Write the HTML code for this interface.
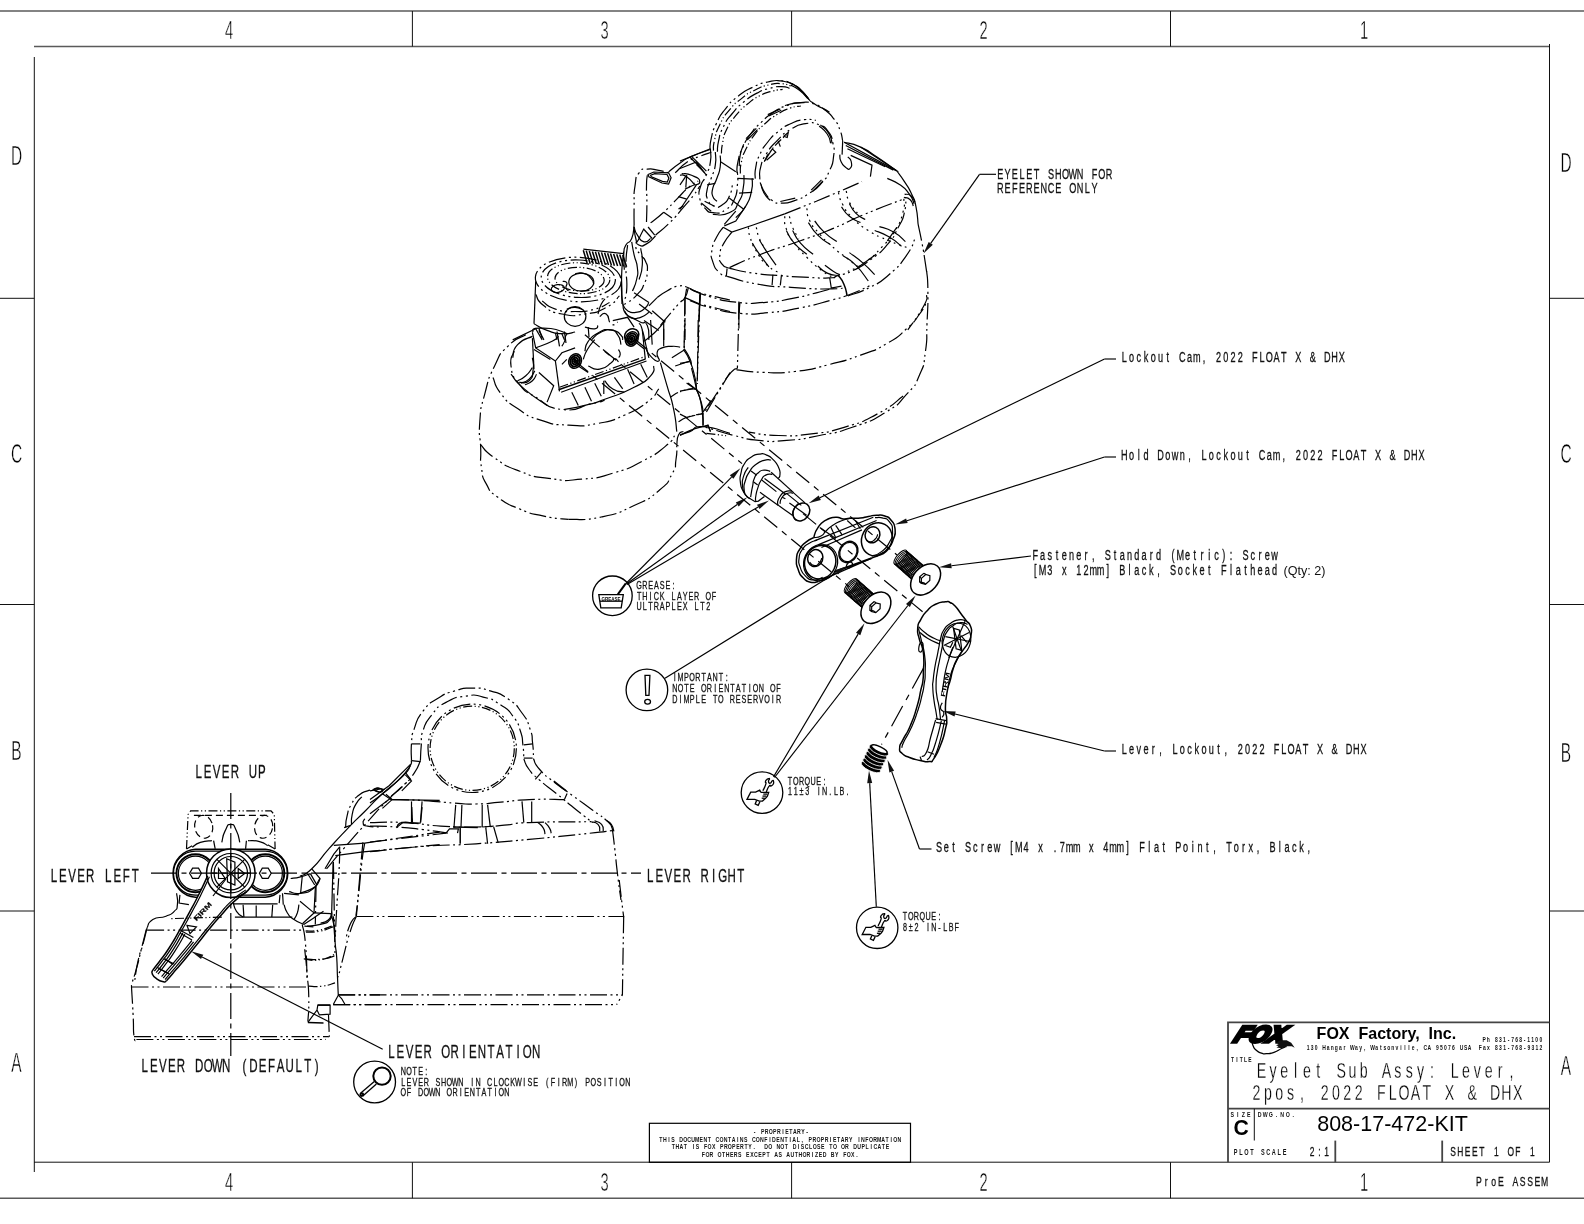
<!DOCTYPE html>
<html lang="en"><head><meta charset="utf-8"><title>808-17-472-KIT Eyelet Sub Assy: Lever, 2pos, 2022 FLOAT X &amp; DHX</title>
<style>
html,body{margin:0;padding:0;background:#fff;}
body{width:1584px;height:1224px;overflow:hidden;font-family:"Liberation Sans",sans-serif;}
svg{display:block;position:absolute;left:0;top:0;will-change:transform;}
svg text{font-family:"Liberation Sans",sans-serif;}
svg line,svg path,svg circle,svg ellipse,svg polyline,svg rect{fill:none;stroke:#000;stroke-width:1.2;}
.fr{stroke:#5a5a5a;stroke-width:1.6;}
.fr2{stroke:#444;stroke-width:1.8;}
.tk{stroke:#111;stroke-width:1;}
.ld{stroke:#000;stroke-width:1.15;}
svg .ah{fill:#111;stroke:none;}
.ph{stroke-dasharray:17 3.5 2 3.5 2 3.5;}
.ph2{stroke-dasharray:9 2.5 1.2 2.5 1.2 2.5;}
.cl{stroke-dasharray:26 4.5 5 4.5;}
.hd{stroke-dasharray:7 4;}
.dt{stroke-dasharray:1.8 4.2;}
.hv{stroke-width:1.5;}
.hv2{stroke-width:2;}
.th{stroke-width:1.0;}
.ax{stroke-dasharray:17 6 6 6;}
.ax2{stroke-dasharray:23 7 6 7;}
svg .sy{stroke-width:1.3;stroke:#000;}
svg .fl{fill:#000;stroke:#000;}
svg .wf{fill:#fff;}
</style></head><body>
<svg width="1584" height="1224" viewBox="0 0 1584 1224">
<line x1="0.0" y1="11.0" x2="1584.0" y2="11.0" class="fr"/>
<line x1="34.0" y1="46.5" x2="1549.5" y2="46.5" class="fr"/>
<line x1="0.0" y1="1198.3" x2="1584.0" y2="1198.3" class="fr"/>
<line x1="34.0" y1="1162.2" x2="1549.5" y2="1162.2" class="tk"/>
<line x1="34.3" y1="57.0" x2="34.3" y2="1172.0" class="tk"/>
<line x1="1549.5" y1="44.0" x2="1549.5" y2="1162.2" class="tk"/>
<line x1="412.4" y1="11.0" x2="412.4" y2="46.5" class="tk"/>
<line x1="412.4" y1="1162.2" x2="412.4" y2="1198.3" class="tk"/>
<line x1="791.6" y1="11.0" x2="791.6" y2="46.5" class="tk"/>
<line x1="791.6" y1="1162.2" x2="791.6" y2="1198.3" class="tk"/>
<line x1="1170.5" y1="11.0" x2="1170.5" y2="46.5" class="tk"/>
<line x1="1170.5" y1="1162.2" x2="1170.5" y2="1198.3" class="tk"/>
<line x1="0.0" y1="298.3" x2="34.3" y2="298.3" class="tk"/>
<line x1="1549.5" y1="298.3" x2="1584.0" y2="298.3" class="tk"/>
<line x1="0.0" y1="604.5" x2="34.3" y2="604.5" class="tk"/>
<line x1="1549.5" y1="604.5" x2="1584.0" y2="604.5" class="tk"/>
<line x1="0.0" y1="911.0" x2="34.3" y2="911.0" class="tk"/>
<line x1="1549.5" y1="911.0" x2="1584.0" y2="911.0" class="tk"/>
<text transform="translate(229.0,38.6) scale(0.56,1)" x="0" y="0" font-size="26.16" fill="#000" text-anchor="middle" stroke="#fff" stroke-width="0.45">4</text>
<text transform="translate(229.0,1190.6) scale(0.56,1)" x="0" y="0" font-size="26.16" fill="#000" text-anchor="middle" stroke="#fff" stroke-width="0.45">4</text>
<text transform="translate(604.5,38.6) scale(0.56,1)" x="0" y="0" font-size="26.16" fill="#000" text-anchor="middle" stroke="#fff" stroke-width="0.45">3</text>
<text transform="translate(604.5,1190.6) scale(0.56,1)" x="0" y="0" font-size="26.16" fill="#000" text-anchor="middle" stroke="#fff" stroke-width="0.45">3</text>
<text transform="translate(983.5,38.6) scale(0.56,1)" x="0" y="0" font-size="26.16" fill="#000" text-anchor="middle" stroke="#fff" stroke-width="0.45">2</text>
<text transform="translate(983.5,1190.6) scale(0.56,1)" x="0" y="0" font-size="26.16" fill="#000" text-anchor="middle" stroke="#fff" stroke-width="0.45">2</text>
<text transform="translate(1364.0,38.6) scale(0.56,1)" x="0" y="0" font-size="26.16" fill="#000" text-anchor="middle" stroke="#fff" stroke-width="0.45">1</text>
<text transform="translate(1364.0,1190.6) scale(0.56,1)" x="0" y="0" font-size="26.16" fill="#000" text-anchor="middle" stroke="#fff" stroke-width="0.45">1</text>
<text transform="translate(16.5,164.5) scale(0.56,1)" x="0" y="0" font-size="27.62" fill="#000" text-anchor="middle" stroke="#fff" stroke-width="0.45">D</text>
<text transform="translate(1566.0,172.0) scale(0.56,1)" x="0" y="0" font-size="27.62" fill="#000" text-anchor="middle" stroke="#fff" stroke-width="0.45">D</text>
<text transform="translate(16.5,463.0) scale(0.56,1)" x="0" y="0" font-size="27.62" fill="#000" text-anchor="middle" stroke="#fff" stroke-width="0.45">C</text>
<text transform="translate(1566.0,463.0) scale(0.56,1)" x="0" y="0" font-size="27.62" fill="#000" text-anchor="middle" stroke="#fff" stroke-width="0.45">C</text>
<text transform="translate(16.5,760.0) scale(0.56,1)" x="0" y="0" font-size="27.62" fill="#000" text-anchor="middle" stroke="#fff" stroke-width="0.45">B</text>
<text transform="translate(1566.0,762.0) scale(0.56,1)" x="0" y="0" font-size="27.62" fill="#000" text-anchor="middle" stroke="#fff" stroke-width="0.45">B</text>
<text transform="translate(16.5,1072.0) scale(0.56,1)" x="0" y="0" font-size="27.62" fill="#000" text-anchor="middle" stroke="#fff" stroke-width="0.45">A</text>
<text transform="translate(1566.0,1075.0) scale(0.56,1)" x="0" y="0" font-size="27.62" fill="#000" text-anchor="middle" stroke="#fff" stroke-width="0.45">A</text>
<text transform="translate(0,179.0) scale(0.660,1)" x="1515.6 1526.6 1537.6 1548.6 1559.6 1570.5 1581.5 1592.5 1603.5 1614.5 1625.5 1636.5 1647.4 1658.4 1669.4 1680.4" y="0" font-size="13.81" fill="#111" text-anchor="middle" xml:space="preserve" stroke="#111" stroke-width="0.3">EYELET SHOWN FOR</text>
<text transform="translate(0,192.6) scale(0.660,1)" x="1515.6 1526.6 1537.6 1548.6 1559.6 1570.5 1581.5 1592.5 1603.5 1614.5 1625.5 1636.5 1647.4 1658.4" y="0" font-size="13.81" fill="#111" text-anchor="middle" xml:space="preserve" stroke="#111" stroke-width="0.3">REFERENCE ONLY</text>
<line x1="979.5" y1="174.3" x2="996.0" y2="174.3" class="ld"/>
<line x1="979.5" y1="174.3" x2="930.7" y2="243.4" class="ld"/>
<polygon points="923.5,253.6 928.7,241.9 932.8,244.8" class="ah"/>
<text transform="translate(0,361.6) scale(0.660,1)" x="1703.4 1714.3 1725.3 1736.3 1747.3 1758.3 1769.3 1780.2 1791.2 1802.2 1813.2 1824.2 1835.2 1846.2 1857.1 1868.1 1879.1 1890.1 1901.1 1912.1 1923.0 1934.0 1945.0 1956.0 1967.0 1978.0 1989.0 1999.9 2010.9 2021.9 2032.9" y="0" font-size="13.81" fill="#111" text-anchor="middle" xml:space="preserve" stroke="#111" stroke-width="0.3">Lockout Cam, 2022 FLOAT X &amp; DHX</text>
<line x1="1104.5" y1="359.0" x2="1116.0" y2="359.0" class="ld"/>
<line x1="1104.5" y1="359.0" x2="819.8" y2="497.8" class="ld"/>
<polygon points="808.6,503.3 818.7,495.6 820.9,500.1" class="ah"/>
<text transform="translate(0,460.0) scale(0.660,1)" x="1703.4 1714.3 1725.3 1736.3 1747.3 1758.3 1769.3 1780.2 1791.2 1802.2 1813.2 1824.2 1835.2 1846.2 1857.1 1868.1 1879.1 1890.1 1901.1 1912.1 1923.0 1934.0 1945.0 1956.0 1967.0 1978.0 1989.0 1999.9 2010.9 2021.9 2032.9 2043.9 2054.9 2065.9 2076.8 2087.8 2098.8 2109.8 2120.8 2131.8 2142.7 2153.7" y="0" font-size="13.81" fill="#111" text-anchor="middle" xml:space="preserve" stroke="#111" stroke-width="0.3">Hold Down, Lockout Cam, 2022 FLOAT X &amp; DHX</text>
<line x1="1104.5" y1="457.0" x2="1116.0" y2="457.0" class="ld"/>
<line x1="1104.5" y1="457.0" x2="906.9" y2="520.8" class="ld"/>
<polygon points="895.0,524.6 906.1,518.4 907.7,523.1" class="ah"/>
<text transform="translate(0,559.7) scale(0.660,1)" x="1568.5 1579.5 1590.5 1601.5 1612.4 1623.4 1634.4 1645.4 1656.4 1667.4 1678.4 1689.3 1700.3 1711.3 1722.3 1733.3 1744.3 1755.2 1766.2 1777.2 1788.2 1799.2 1810.2 1821.2 1832.1 1843.1 1854.1 1865.1 1876.1 1887.1 1898.0 1909.0 1920.0 1931.0" y="0" font-size="13.81" fill="#111" text-anchor="middle" xml:space="preserve" stroke="#111" stroke-width="0.3">Fastener, Standard (Metric): Screw</text>
<text transform="translate(0,574.8) scale(0.660,1)" x="1568.5 1579.5 1590.5 1601.5 1612.4 1623.4 1634.4 1645.4 1656.4 1667.4 1678.4 1689.3 1700.3 1711.3 1722.3 1733.3 1744.3 1755.2 1766.2 1777.2 1788.2 1799.2 1810.2 1821.2 1832.1 1843.1 1854.1 1865.1 1876.1 1887.1 1898.0 1909.0 1920.0 1931.0" y="0" font-size="13.81" fill="#111" text-anchor="middle" xml:space="preserve" stroke="#111" stroke-width="0.3">[M3 x 12mm] Black, Socket Flathead</text>
<text x="1283.5" y="574.5" font-size="12.6" fill="#111" textLength="42" lengthAdjust="spacingAndGlyphs">(Qty: 2)</text>
<line x1="1031.0" y1="556.0" x2="951.4" y2="565.8" class="ld"/>
<polygon points="939.0,567.3 951.1,563.3 951.7,568.3" class="ah"/>
<text transform="translate(0,753.5) scale(0.660,1)" x="1703.4 1714.3 1725.3 1736.3 1747.3 1758.3 1769.3 1780.2 1791.2 1802.2 1813.2 1824.2 1835.2 1846.2 1857.1 1868.1 1879.1 1890.1 1901.1 1912.1 1923.0 1934.0 1945.0 1956.0 1967.0 1978.0 1989.0 1999.9 2010.9 2021.9 2032.9 2043.9 2054.9 2065.9" y="0" font-size="13.81" fill="#111" text-anchor="middle" xml:space="preserve" stroke="#111" stroke-width="0.3">Lever, Lockout, 2022 FLOAT X &amp; DHX</text>
<line x1="1104.5" y1="751.0" x2="1116.0" y2="751.0" class="ld"/>
<line x1="1104.5" y1="751.0" x2="955.1" y2="714.0" class="ld"/>
<polygon points="943.0,711.0 955.7,711.6 954.5,716.4" class="ah"/>
<text transform="translate(0,851.8) scale(0.660,1)" x="1422.9 1433.9 1444.9 1455.9 1466.8 1477.8 1488.8 1499.8 1510.8 1521.8 1532.7 1543.7 1554.7 1565.7 1576.7 1587.7 1598.7 1609.6 1620.6 1631.6 1642.6 1653.6 1664.6 1675.5 1686.5 1697.5 1708.5 1719.5 1730.5 1741.5 1752.4 1763.4 1774.4 1785.4 1796.4 1807.4 1818.4 1829.3 1840.3 1851.3 1862.3 1873.3 1884.3 1895.2 1906.2 1917.2 1928.2 1939.2 1950.2 1961.2 1972.1 1983.1" y="0" font-size="13.81" fill="#111" text-anchor="middle" xml:space="preserve" stroke="#111" stroke-width="0.3">Set Screw [M4 x .7mm x 4mm] Flat Point, Torx, Black,</text>
<line x1="919.5" y1="849.0" x2="931.5" y2="849.0" class="ld"/>
<line x1="919.5" y1="849.0" x2="891.7" y2="771.6" class="ld"/>
<polygon points="887.5,759.8 894.1,770.7 889.4,772.4" class="ah"/>
<circle cx="612.4" cy="595.8" r="19.8" class="sy"/>
<text transform="translate(0,589.2) scale(0.660,1)" x="968.3 977.0 985.7 994.5 1003.2 1011.9 1020.6" y="0" font-size="10.90" fill="#111" text-anchor="middle" xml:space="preserve" stroke="#111" stroke-width="0.3">GREASE:</text>
<text transform="translate(0,599.8) scale(0.660,1)" x="968.3 977.0 985.7 994.5 1003.2 1011.9 1020.6 1029.4 1038.1 1046.8 1055.5 1064.3 1073.0 1081.7" y="0" font-size="10.90" fill="#111" text-anchor="middle" xml:space="preserve" stroke="#111" stroke-width="0.3">THICK LAYER OF</text>
<text transform="translate(0,610.4) scale(0.660,1)" x="968.3 977.0 985.7 994.5 1003.2 1011.9 1020.6 1029.4 1038.1 1046.8 1055.5 1064.3 1073.0" y="0" font-size="10.90" fill="#111" text-anchor="middle" xml:space="preserve" stroke="#111" stroke-width="0.3">ULTRAPLEX LT2</text>
<circle cx="646.9" cy="689.9" r="20.8" class="sy"/>
<text transform="translate(0,681.3) scale(0.660,1)" x="1022.5 1031.2 1040.0 1048.7 1057.4 1066.2 1074.9 1083.6 1092.3 1101.1" y="0" font-size="10.90" fill="#111" text-anchor="middle" xml:space="preserve" stroke="#111" stroke-width="0.3">IMPORTANT:</text>
<text transform="translate(0,692.1) scale(0.660,1)" x="1022.5 1031.2 1040.0 1048.7 1057.4 1066.2 1074.9 1083.6 1092.3 1101.1 1109.8 1118.5 1127.2 1136.0 1144.7 1153.4 1162.2 1170.9 1179.6" y="0" font-size="10.90" fill="#111" text-anchor="middle" xml:space="preserve" stroke="#111" stroke-width="0.3">NOTE ORIENTATION OF</text>
<text transform="translate(0,703.0) scale(0.660,1)" x="1022.5 1031.2 1040.0 1048.7 1057.4 1066.2 1074.9 1083.6 1092.3 1101.1 1109.8 1118.5 1127.2 1136.0 1144.7 1153.4 1162.2 1170.9 1179.6" y="0" font-size="10.90" fill="#111" text-anchor="middle" xml:space="preserve" stroke="#111" stroke-width="0.3">DIMPLE TO RESERVOIR</text>
<circle cx="762.0" cy="792.6" r="20.8" class="sy"/>
<text transform="translate(0,784.6) scale(0.660,1)" x="1196.9 1205.6 1214.4 1223.1 1231.8 1240.5 1249.3" y="0" font-size="10.90" fill="#111" text-anchor="middle" xml:space="preserve" stroke="#111" stroke-width="0.3">TORQUE:</text>
<text transform="translate(0,795.3) scale(0.660,1)" x="1196.9 1205.6 1214.4 1223.1 1231.8 1240.5 1249.3 1258.0 1266.7 1275.5 1284.2" y="0" font-size="10.90" fill="#111" text-anchor="middle" xml:space="preserve" stroke="#111" stroke-width="0.3">11±3 IN.LB.</text>
<circle cx="877.2" cy="927.8" r="20.7" class="sy"/>
<text transform="translate(0,919.7) scale(0.660,1)" x="1371.2 1379.9 1388.6 1397.3 1406.1 1414.8 1423.5" y="0" font-size="10.90" fill="#111" text-anchor="middle" xml:space="preserve" stroke="#111" stroke-width="0.3">TORQUE:</text>
<text transform="translate(0,930.5) scale(0.660,1)" x="1371.2 1379.9 1388.6 1397.3 1406.1 1414.8 1423.5 1432.2 1441.0 1449.7" y="0" font-size="10.90" fill="#111" text-anchor="middle" xml:space="preserve" stroke="#111" stroke-width="0.3">8±2 IN-LBF</text>
<circle cx="374.6" cy="1082.0" r="20.9" class="sy"/>
<text transform="translate(0,1074.8) scale(0.660,1)" x="611.0 619.7 628.5 637.2 645.9" y="0" font-size="10.90" fill="#111" text-anchor="middle" xml:space="preserve" stroke="#111" stroke-width="0.3">NOTE:</text>
<text transform="translate(0,1085.6) scale(0.660,1)" x="611.0 619.7 628.5 637.2 645.9 654.6 663.4 672.1 680.8 689.5 698.3 707.0 715.7 724.5 733.2 741.9 750.6 759.4 768.1 776.8 785.5 794.3 803.0 811.7 820.5 829.2 837.9 846.6 855.4 864.1 872.8 881.5 890.3 899.0 907.7 916.5 925.2 933.9 942.6 951.4" y="0" font-size="10.90" fill="#111" text-anchor="middle" xml:space="preserve" stroke="#111" stroke-width="0.3">LEVER SHOWN IN CLOCKWISE (FIRM) POSITION</text>
<text transform="translate(0,1096.3) scale(0.660,1)" x="611.0 619.7 628.5 637.2 645.9 654.6 663.4 672.1 680.8 689.5 698.3 707.0 715.7 724.5 733.2 741.9 750.6 759.4 768.1" y="0" font-size="10.90" fill="#111" text-anchor="middle" xml:space="preserve" stroke="#111" stroke-width="0.3">OF DOWN ORIENTATION</text>
<text transform="translate(0,778.3) scale(0.660,1)" x="300.9 314.6 328.3 342.0 355.8 369.5 383.2 396.9" y="0" font-size="17.44" fill="#111" text-anchor="middle" xml:space="preserve" stroke="#111" stroke-width="0.3">LEVER UP</text>
<text transform="translate(0,881.8) scale(0.660,1)" x="81.7 95.4 109.1 122.8 136.5 150.2 163.9 177.7 191.4 205.1" y="0" font-size="17.44" fill="#111" text-anchor="middle" xml:space="preserve" stroke="#111" stroke-width="0.3">LEVER LEFT</text>
<text transform="translate(0,881.8) scale(0.660,1)" x="985.3 999.0 1012.7 1026.4 1040.2 1053.9 1067.6 1081.3 1095.0 1108.7 1122.4" y="0" font-size="17.44" fill="#111" text-anchor="middle" xml:space="preserve" stroke="#111" stroke-width="0.3">LEVER RIGHT</text>
<text transform="translate(0,1072.0) scale(0.660,1)" x="219.4 233.1 246.8 260.5 274.2 288.0 301.7 315.4 329.1 342.8 356.5 370.2 383.9 397.7 411.4 425.1 438.8 452.5 466.2 479.9" y="0" font-size="17.44" fill="#111" text-anchor="middle" xml:space="preserve" stroke="#111" stroke-width="0.3">LEVER DOWN (DEFAULT)</text>
<text transform="translate(0,1057.7) scale(0.660,1)" x="593.0 606.7 620.5 634.2 647.9 661.6 675.3 689.0 702.7 716.4 730.2 743.9 757.6 771.3 785.0 798.7 812.4" y="0" font-size="17.44" fill="#111" text-anchor="middle" xml:space="preserve" stroke="#111" stroke-width="0.3">LEVER ORIENTATION</text>
<rect x="649.4" y="1123.3" width="261.1" height="39" />
<text transform="translate(0,1133.9) scale(0.660,1)" x="1143.3 1149.4 1155.6 1161.7 1167.8 1173.9 1180.0 1186.2 1192.3 1198.4 1204.5 1210.6 1216.8 1222.9" y="0" font-size="7.85" fill="#111" text-anchor="middle" xml:space="preserve" font-weight="bold">- PROPRIETARY-</text>
<text transform="translate(0,1141.5) scale(0.660,1)" x="1001.3 1007.5 1013.6 1019.7 1025.8 1031.9 1038.1 1044.2 1050.3 1056.4 1062.6 1068.7 1074.8 1080.9 1087.0 1093.2 1099.3 1105.4 1111.5 1117.6 1123.8 1129.9 1136.0 1142.1 1148.2 1154.4 1160.5 1166.6 1172.7 1178.9 1185.0 1191.1 1197.2 1203.3 1209.5 1215.6 1221.7 1227.8 1233.9 1240.1 1246.2 1252.3 1258.4 1264.6 1270.7 1276.8 1282.9 1289.0 1295.2 1301.3 1307.4 1313.5 1319.6 1325.8 1331.9 1338.0 1344.1 1350.2 1356.4 1362.5" y="0" font-size="7.85" fill="#111" text-anchor="middle" xml:space="preserve" font-weight="bold">THIS DOCUMENT CONTAINS CONFIDENTIAL, PROPRIETARY INFORMATION</text>
<text transform="translate(0,1149.2) scale(0.660,1)" x="1020.1 1026.2 1032.4 1038.5 1044.6 1050.7 1056.9 1063.0 1069.1 1075.2 1081.3 1087.5 1093.6 1099.7 1105.8 1111.9 1118.1 1124.2 1130.3 1136.4 1142.6 1148.7 1154.8 1160.9 1167.0 1173.2 1179.3 1185.4 1191.5 1197.6 1203.8 1209.9 1216.0 1222.1 1228.2 1234.4 1240.5 1246.6 1252.7 1258.9 1265.0 1271.1 1277.2 1283.3 1289.5 1295.6 1301.7 1307.8 1313.9 1320.1 1326.2 1332.3 1338.4 1344.6" y="0" font-size="7.85" fill="#111" text-anchor="middle" xml:space="preserve" font-weight="bold">THAT IS FOX PROPERTY.  DO NOT DISCLOSE TO OR DUPLICATE</text>
<text transform="translate(0,1156.5) scale(0.660,1)" x="1065.7 1071.9 1078.0 1084.1 1090.2 1096.3 1102.5 1108.6 1114.7 1120.8 1126.9 1133.1 1139.2 1145.3 1151.4 1157.6 1163.7 1169.8 1175.9 1182.0 1188.2 1194.3 1200.4 1206.5 1212.6 1218.8 1224.9 1231.0 1237.1 1243.2 1249.4 1255.5 1261.6 1267.7 1273.9 1280.0 1286.1 1292.2 1298.3" y="0" font-size="7.85" fill="#111" text-anchor="middle" xml:space="preserve" font-weight="bold">FOR OTHERS EXCEPT AS AUTHORIZED BY FOX.</text>
<path d="M1228 1162.2 V1022.4 H1549.5" class="fr2"/>
<line x1="1228.0" y1="1108.7" x2="1549.5" y2="1108.7" class="fr2"/>
<line x1="1254.3" y1="1108.7" x2="1254.3" y2="1140.5" class="tk"/>
<line x1="1335.3" y1="1140.6" x2="1335.3" y2="1162.2" class="fr2"/>
<line x1="1442.2" y1="1140.6" x2="1442.2" y2="1162.2" class="fr2"/>
<text x="1316.6" y="1038.8" font-size="16.2" font-weight="bold" fill="#000" textLength="139.5" lengthAdjust="spacingAndGlyphs" xml:space="preserve">FOX  Factory,  Inc.</text>
<text transform="translate(0,1049.9) scale(0.660,1)" x="1981.9 1988.0 1994.1 2000.2 2006.3 2012.5 2018.6 2024.7 2030.8 2037.0 2043.1 2049.2 2055.3 2061.4 2067.6 2073.7 2079.8 2085.9 2092.0 2098.2 2104.3 2110.4 2116.5 2122.7 2128.8 2134.9 2141.0 2147.1 2153.3 2159.4 2165.5 2171.6 2177.7 2183.9 2190.0 2196.1 2202.2 2208.3 2214.5 2220.6 2226.7" y="0" font-size="7.56" fill="#111" text-anchor="middle" xml:space="preserve" font-weight="bold">130 Hangar Way, Watsonville, CA 95076 USA</text>
<text transform="translate(0,1041.8) scale(0.660,1)" x="2248.8 2255.0 2261.1 2267.2 2273.3 2279.4 2285.6 2291.7 2297.8 2303.9 2310.0 2316.2 2322.3 2328.4 2334.5" y="0" font-size="7.56" fill="#111" text-anchor="middle" xml:space="preserve" font-weight="bold">Ph 831-768-1100</text>
<text transform="translate(0,1049.9) scale(0.660,1)" x="2242.9 2249.0 2255.2 2261.3 2267.4 2273.5 2279.7 2285.8 2291.9 2298.0 2304.1 2310.3 2316.4 2322.5 2328.6 2334.7" y="0" font-size="7.56" fill="#111" text-anchor="middle" xml:space="preserve" font-weight="bold">Fax 831-768-9312</text>
<text transform="translate(0,1061.6) scale(0.660,1)" x="1867.3 1874.0 1880.7 1887.3 1894.0" y="0" font-size="7.56" fill="#111" text-anchor="middle" xml:space="preserve" font-weight="bold">TITLE</text>
<text transform="translate(0,1078.4) scale(0.660,1)" x="1911.5 1928.7 1945.9 1963.1 1980.3 1997.5 2014.7 2032.0 2049.2 2066.4 2083.6 2100.8 2118.0 2135.2 2152.4 2169.7 2186.9 2204.1 2221.3 2238.5 2255.7 2272.9 2290.1" y="0" font-size="21.51" fill="#000" text-anchor="middle" xml:space="preserve" stroke="#fff" stroke-width="0.30">Eyelet Sub Assy: Lever,</text>
<text transform="translate(0,1099.8) scale(0.660,1)" x="1903.7 1921.0 1938.2 1955.4 1972.6 1989.8 2007.0 2024.2 2041.4 2058.7 2075.9 2093.1 2110.3 2127.5 2144.7 2161.9 2179.1 2196.3 2213.6 2230.8 2248.0 2265.2 2282.4 2299.6" y="0" font-size="21.51" fill="#000" text-anchor="middle" xml:space="preserve" stroke="#fff" stroke-width="0.30">2pos, 2022 FLOAT X &amp; DHX</text>
<text transform="translate(0,1116.7) scale(0.660,1)" x="1867.0 1875.3 1883.7 1892.0" y="0" font-size="7.99" fill="#111" text-anchor="middle" xml:space="preserve" font-weight="bold">SIZE</text>
<text transform="translate(0,1116.7) scale(0.660,1)" x="1908.7 1917.1 1925.6 1934.1 1942.6 1951.1 1959.6" y="0" font-size="7.99" fill="#111" text-anchor="middle" xml:space="preserve" font-weight="bold">DWG.NO.</text>
<text x="1233.6" y="1135.4" font-size="21.2" font-weight="bold" fill="#000">C</text>
<text x="1317.2" y="1130.7" font-size="22.1" fill="#000" textLength="150.7" lengthAdjust="spacingAndGlyphs">808-17-472-KIT</text>
<text transform="translate(0,1154.7) scale(0.660,1)" x="1872.1 1880.4 1888.6 1896.8 1905.1 1913.3 1921.6 1929.8 1938.1 1946.3" y="0" font-size="8.43" fill="#111" text-anchor="middle" xml:space="preserve" font-weight="bold">PLOT SCALE</text>
<text transform="translate(0,1156.2) scale(0.660,1)" x="1988.1 1999.0 2009.9" y="0" font-size="12.79" fill="#111" text-anchor="middle" xml:space="preserve" stroke="#111" stroke-width="0.3">2:1</text>
<text transform="translate(0,1156.2) scale(0.660,1)" x="2201.7 2212.6 2223.5 2234.4 2245.3 2256.2 2267.2 2278.1 2289.0 2299.9 2310.8 2321.7" y="0" font-size="12.79" fill="#111" text-anchor="middle" xml:space="preserve" stroke="#111" stroke-width="0.3">SHEET 1 OF 1</text>
<text transform="translate(0,1186.3) scale(0.660,1)" x="2240.9 2251.9 2263.0 2274.1 2285.1 2296.2 2307.2 2318.3 2329.4 2340.4" y="0" font-size="13.08" fill="#111" text-anchor="middle" xml:space="preserve" stroke="#111" stroke-width="0.3">ProE ASSEM</text>
<g class="cam">
<path d="M747.8 497.2 C746.3 495.3 745.7 496.4 743.3 491.5 C740.8 486.6 741.2 488.7 740.4 482.5 C739.7 476.2 739.7 478.9 741.1 472.7 C742.4 466.4 741.2 468.9 744.5 463.7 C747.8 458.5 746.1 460.4 751.0 457.2 C755.9 453.9 754.0 454.7 759.2 454.1 C764.4 453.4 761.9 453.3 766.6 455.1 C771.2 457.0 769.1 455.7 773.1 459.6 C777.0 463.6 776.1 462.1 778.4 467.0 C780.7 471.9 780.0 470.5 780.0 474.3 C780.0 478.1 779.0 477.0 778.4 478.4"/>
<path d="M771.1 460.0 C768.7 460.1 769.1 458.9 764.1 460.4 C759.1 461.9 760.8 460.7 755.9 464.5 C751.0 468.3 752.9 466.4 749.4 471.9 C745.9 477.3 747.1 475.1 745.3 480.8 C743.6 486.6 743.8 484.1 744.1 489.0 C744.4 493.9 744.1 492.3 746.1 495.5 C748.2 498.8 748.9 497.7 750.2 498.8"/>
<path d="M747.8 497.2 L755.1 501.7 L758.4 501.1 L764.5 496.4"/>
<path d="M748.2 467.4 C746.7 470.2 745.6 469.8 743.7 475.9 C741.8 482.1 742.2 480.0 742.5 485.7 C742.7 491.5 743.8 490.6 744.5 493.1"/>
<path d="M770.2 471.4 C768.2 471.0 768.1 469.7 764.1 470.1 C760.2 470.5 761.7 469.9 758.4 472.7 C755.1 475.5 756.2 474.0 754.3 478.4 C752.4 482.8 753.6 481.1 752.7 485.7 C751.7 490.4 752.1 488.5 751.4 492.3 C750.8 496.1 750.9 495.5 750.6 497.2"/>
<path d="M772.3 474.3 C770.1 474.6 769.4 473.2 765.7 475.1 C762.1 477.0 763.8 475.9 761.3 480.0 C758.7 484.1 759.8 482.2 758.0 487.4 C756.2 492.6 756.8 491.1 755.9 495.5 C755.1 500.0 755.7 499.1 755.5 500.9"/>
<path d="M751.0 471.0 L756.8 475.3"/>
<path d="M753.7 482.1 L757.7 485.1"/>
<path d="M771.1 472.3 L793.9 492.9"/>
<path d="M760.0 492.3 L778.4 505.4"/>
<path d="M761.7 480.0 L776.4 491.6"/>
<path d="M764.5 478.4 L785.4 493.9"/>
<path d="M791.9 491.1 C789.7 491.2 789.3 489.9 785.4 491.6 C781.4 493.4 782.6 492.7 780.0 496.4 C777.5 500.0 777.9 499.4 777.6 502.5 C777.2 505.6 778.5 504.7 779.0 505.8"/>
<path d="M793.5 493.1 C791.3 493.2 790.9 491.9 787.0 493.5 C783.0 495.1 784.0 494.6 781.7 498.0 C779.4 501.4 780.6 501.8 780.0 503.7"/>
<path d="M793.9 493.1 L805.0 502.9"/>
<path d="M779.0 505.8 L792.7 515.6"/>
<path d="M786.2 493.1 L801.3 505.4"/>
<path d="M789.4 502.9 L806.6 515.2"/>
<path d="M782.1 497.2 L785.4 498.8"/>
<ellipse cx="801.3" cy="511.9" rx="9.6" ry="7.8" transform="rotate(-52.0 801.3 511.9)" class="hv"/>
<path d="M798.4 503.3 C796.9 505.4 795.6 505.1 793.9 509.4 C792.3 513.8 792.7 512.7 793.5 516.4 C794.3 520.1 795.4 519.1 796.4 520.5"/>
</g>
<g class="hold">
<path d="M813.7 537.7 C815.1 534.4 813.7 533.7 817.8 527.9 C821.9 522.0 820.0 523.7 825.9 520.1 C831.9 516.6 830.0 517.7 835.7 517.3 C841.5 516.8 838.2 518.6 843.1 518.9 C848.0 519.2 844.7 518.5 850.4 518.2 C856.2 518.0 854.3 518.7 860.3 518.1 C866.2 517.5 863.0 517.4 868.4 516.4 C873.9 515.5 871.1 515.3 876.6 515.2 C882.0 515.1 879.9 514.3 884.8 516.0 C889.7 517.8 887.9 516.3 891.3 520.5 C894.7 524.7 894.3 522.4 895.0 528.7 C895.7 535.0 895.7 532.8 893.3 539.3 C891.0 545.8 892.2 543.4 888.0 548.3 C883.8 553.2 886.1 550.7 880.7 554.0 C875.2 557.3 874.7 556.7 871.7 558.1" class="hv"/>
<path d="M871.7 558.1 L818.6 581.4" class="hv"/>
<path d="M818.6 581.4 C815.9 581.7 815.6 583.4 810.4 582.2 C805.2 581.0 807.2 581.9 803.1 577.7 C799.0 573.5 800.3 575.8 798.2 569.5 C796.0 563.3 796.0 565.7 796.5 558.9 C797.1 552.1 796.5 554.8 799.8 549.1 C803.1 543.4 801.7 545.6 806.3 541.8 C811.0 537.9 811.2 539.0 813.7 537.7" class="hv"/>
<path d="M822.7 577.3 C819.7 578.2 819.4 580.4 813.7 580.0 C808.0 579.6 810.0 580.4 805.5 576.1 C801.0 571.8 802.3 573.1 800.2 567.1 C798.1 561.1 798.5 564.0 799.1 558.1 C799.8 552.2 799.0 554.4 802.3 549.5 C805.5 544.6 803.9 546.5 808.8 543.4 C813.7 540.3 814.2 541.2 817.0 540.1"/>
<path d="M871.7 556.1 C875.0 554.6 875.5 556.3 881.5 551.6 C887.5 546.8 886.0 548.6 889.7 541.8 C893.3 535.0 892.7 537.8 892.5 531.1 C892.4 524.5 892.4 526.1 889.3 521.7 C886.1 517.4 887.9 519.4 883.1 518.1 C878.4 516.7 877.7 517.8 875.0 517.7"/>
<path d="M834.1 572.0 L871.7 558.1" class="hv2"/>
<path d="M814.5 540.9 L873.3 517.3"/>
<path d="M818.6 544.6 L876.6 520.5"/>
<path d="M821.4 547.5 L861.9 529.9"/>
<path d="M813.7 537.7 C816.1 537.1 817.0 538.2 821.0 536.0 C825.1 533.9 822.1 534.7 825.9 531.1 C829.8 527.6 827.0 529.0 832.5 525.4 C837.9 521.9 836.3 522.9 842.3 520.5 C848.3 518.1 847.7 519.0 850.4 518.2"/>
<path d="M819.8 527.5 L835.7 538.5"/>
<path d="M830.8 527.1 L835.7 537.7"/>
<path d="M835.7 525.4 L842.3 535.2"/>
<path d="M847.2 520.5 L855.4 527.9"/>
<path d="M855.4 520.5 L860.3 528.7"/>
<ellipse cx="820.2" cy="562.2" rx="15.4" ry="17.0" transform="rotate(25.0 820.2 562.2)" class="hv"/>
<ellipse cx="820.6" cy="562.6" rx="16.7" ry="18.6" transform="rotate(25.0 820.6 562.6)"/>
<ellipse cx="815.3" cy="558.1" rx="7.5" ry="8.6" transform="rotate(20.0 815.3 558.1)" class="hv"/>
<path d="M809.6 562.2 C811.0 563.3 810.7 564.9 813.7 565.4 C816.7 566.0 815.9 566.3 818.6 563.8 C821.3 561.4 820.8 560.0 821.9 558.1"/>
<ellipse cx="876.8" cy="539.3" rx="14.9" ry="17.0" transform="rotate(28.0 876.8 539.3)" class="hv"/>
<ellipse cx="872.5" cy="534.8" rx="7.2" ry="8.2" transform="rotate(25.0 872.5 534.8)" class="hv"/>
<path d="M866.0 539.3 C867.3 540.1 867.1 541.8 870.1 541.8 C873.0 541.8 872.4 541.8 875.0 539.3 C877.5 536.9 876.9 536.0 877.8 534.4"/>
<ellipse cx="848.4" cy="552.0" rx="9.1" ry="11.0" transform="rotate(28.0 848.4 552.0)" class="hv"/>
<ellipse cx="848.4" cy="552.0" rx="8.2" ry="10.0" transform="rotate(28.0 848.4 552.0)"/>
<ellipse cx="849.5" cy="565.0" rx="3.4" ry="2.3" transform="rotate(-45.0 849.5 565.0)"/>
</g>
<g class="screw">
<line x1="925.3" y1="567.7" x2="906.1" y2="550.9"/>
<line x1="913.9" y1="580.6" x2="894.7" y2="563.8"/>
<ellipse cx="900.4" cy="557.3" rx="9.1" ry="3.6" transform="rotate(-48.8 900.4 557.3)" class="th"/>
<ellipse cx="901.6" cy="558.4" rx="9.1" ry="3.6" transform="rotate(-48.8 901.6 558.4)" class="th"/>
<ellipse cx="902.8" cy="559.4" rx="9.1" ry="3.6" transform="rotate(-48.8 902.8 559.4)" class="th"/>
<ellipse cx="904.0" cy="560.5" rx="9.1" ry="3.6" transform="rotate(-48.8 904.0 560.5)" class="th"/>
<ellipse cx="905.2" cy="561.5" rx="9.1" ry="3.6" transform="rotate(-48.8 905.2 561.5)" class="th"/>
<ellipse cx="906.4" cy="562.6" rx="9.1" ry="3.6" transform="rotate(-48.8 906.4 562.6)" class="th"/>
<ellipse cx="907.6" cy="563.6" rx="9.1" ry="3.6" transform="rotate(-48.8 907.6 563.6)" class="th"/>
<ellipse cx="908.8" cy="564.7" rx="9.1" ry="3.6" transform="rotate(-48.8 908.8 564.7)" class="th"/>
<ellipse cx="910.0" cy="565.8" rx="9.1" ry="3.6" transform="rotate(-48.8 910.0 565.8)" class="th"/>
<ellipse cx="911.2" cy="566.8" rx="9.1" ry="3.6" transform="rotate(-48.8 911.2 566.8)" class="th"/>
<ellipse cx="912.4" cy="567.9" rx="9.1" ry="3.6" transform="rotate(-48.8 912.4 567.9)" class="th"/>
<ellipse cx="913.6" cy="568.9" rx="9.1" ry="3.6" transform="rotate(-48.8 913.6 568.9)" class="th"/>
<ellipse cx="914.8" cy="570.0" rx="9.1" ry="3.6" transform="rotate(-48.8 914.8 570.0)" class="th"/>
<ellipse cx="916.0" cy="571.0" rx="9.1" ry="3.6" transform="rotate(-48.8 916.0 571.0)" class="th"/>
<ellipse cx="917.3" cy="572.1" rx="9.1" ry="3.6" transform="rotate(-48.8 917.3 572.1)" class="th"/>
<ellipse cx="925.6" cy="579.4" rx="17.8" ry="12.4" transform="rotate(-48.8 925.6 579.4)" class="hv wf"/>
<path d="M929.9 575.6 L929.8 580.4 L925.5 584.3 L921.3 583.2 L921.4 578.4 L925.7 574.5 Z"/>
<path d="M923.9 582.8 L919.6 581.8 L919.7 576.9 L924.0 573.1"/>
<line x1="925.5" y1="584.3" x2="923.9" y2="582.8"/>
<line x1="921.3" y1="583.2" x2="919.6" y2="581.8"/>
<line x1="921.4" y1="578.4" x2="919.7" y2="576.9"/>
<line x1="925.7" y1="574.5" x2="924.0" y2="573.1"/>
</g>
<g class="screw">
<line x1="875.6" y1="596.1" x2="856.4" y2="579.3"/>
<line x1="864.2" y1="609.0" x2="845.0" y2="592.2"/>
<ellipse cx="850.7" cy="585.7" rx="9.1" ry="3.6" transform="rotate(-48.8 850.7 585.7)" class="th"/>
<ellipse cx="851.9" cy="586.8" rx="9.1" ry="3.6" transform="rotate(-48.8 851.9 586.8)" class="th"/>
<ellipse cx="853.1" cy="587.8" rx="9.1" ry="3.6" transform="rotate(-48.8 853.1 587.8)" class="th"/>
<ellipse cx="854.3" cy="588.9" rx="9.1" ry="3.6" transform="rotate(-48.8 854.3 588.9)" class="th"/>
<ellipse cx="855.5" cy="589.9" rx="9.1" ry="3.6" transform="rotate(-48.8 855.5 589.9)" class="th"/>
<ellipse cx="856.7" cy="591.0" rx="9.1" ry="3.6" transform="rotate(-48.8 856.7 591.0)" class="th"/>
<ellipse cx="857.9" cy="592.0" rx="9.1" ry="3.6" transform="rotate(-48.8 857.9 592.0)" class="th"/>
<ellipse cx="859.1" cy="593.1" rx="9.1" ry="3.6" transform="rotate(-48.8 859.1 593.1)" class="th"/>
<ellipse cx="860.3" cy="594.2" rx="9.1" ry="3.6" transform="rotate(-48.8 860.3 594.2)" class="th"/>
<ellipse cx="861.5" cy="595.2" rx="9.1" ry="3.6" transform="rotate(-48.8 861.5 595.2)" class="th"/>
<ellipse cx="862.7" cy="596.3" rx="9.1" ry="3.6" transform="rotate(-48.8 862.7 596.3)" class="th"/>
<ellipse cx="863.9" cy="597.3" rx="9.1" ry="3.6" transform="rotate(-48.8 863.9 597.3)" class="th"/>
<ellipse cx="865.1" cy="598.4" rx="9.1" ry="3.6" transform="rotate(-48.8 865.1 598.4)" class="th"/>
<ellipse cx="866.3" cy="599.4" rx="9.1" ry="3.6" transform="rotate(-48.8 866.3 599.4)" class="th"/>
<ellipse cx="867.6" cy="600.5" rx="9.1" ry="3.6" transform="rotate(-48.8 867.6 600.5)" class="th"/>
<ellipse cx="875.9" cy="607.8" rx="17.8" ry="12.4" transform="rotate(-48.8 875.9 607.8)" class="hv wf"/>
<path d="M880.2 604.0 L880.1 608.8 L875.8 612.7 L871.6 611.6 L871.7 606.8 L876.0 602.9 Z"/>
<path d="M874.2 611.2 L869.9 610.2 L870.0 605.3 L874.3 601.5"/>
<line x1="875.8" y1="612.7" x2="874.2" y2="611.2"/>
<line x1="871.6" y1="611.6" x2="869.9" y2="610.2"/>
<line x1="871.7" y1="606.8" x2="870.0" y2="605.3"/>
<line x1="876.0" y1="602.9" x2="874.3" y2="601.5"/>
</g>
<g class="lever">
<path d="M945.4 601.8 C940.5 602.4 941.6 601.4 935.6 604.3 C929.7 607.2 932.4 605.4 927.5 610.4 C922.6 615.5 924.2 613.4 920.9 619.4 C917.7 625.4 918.2 621.9 917.7 628.4 C917.1 634.9 917.7 632.2 919.3 639.0 C920.9 645.8 921.1 642.0 922.6 648.8 C924.1 655.6 923.5 652.4 923.8 659.4 C924.1 666.5 923.7 663.2 923.4 670.1 C923.1 676.9 923.8 673.4 923.0 679.9 C922.2 686.5 923.0 680.8 920.9 689.7 C918.9 698.7 920.4 694.9 916.9 706.9 C913.3 718.9 915.0 714.8 910.3 725.7 C905.7 736.6 906.5 732.2 903.0 739.6 C899.4 746.9 900.0 743.1 899.7 747.7 C899.4 752.4 898.9 750.2 902.2 753.5 C905.4 756.7 903.5 755.2 909.5 757.5 C915.5 759.9 913.6 759.0 920.1 760.4 C926.7 761.8 924.5 762.3 929.1 761.6 C933.7 760.9 930.2 763.8 934.0 758.4 C937.8 752.9 936.7 755.1 940.5 745.3 C944.4 735.5 943.4 737.7 945.4 729.0 C947.5 720.2 946.7 726.0 946.7 719.1 C946.7 712.3 945.3 717.5 945.4 708.5 C945.6 699.5 945.4 701.7 947.1 692.2 C948.7 682.7 948.4 687.3 950.4 679.9 C952.3 672.6 950.6 676.9 952.8 670.1 C955.0 663.2 953.3 666.2 956.9 659.4 C960.4 652.6 959.6 655.4 963.4 649.6 C967.2 643.9 965.7 647.5 968.3 642.3 C970.9 637.1 970.5 639.6 971.2 634.1 C971.9 628.7 972.1 630.6 970.4 625.9 C968.6 621.3 969.0 624.3 965.9 620.2 C962.7 616.1 964.5 618.3 961.0 613.7 C957.4 609.1 958.8 610.0 955.3 606.3 C951.7 602.7 953.6 604.2 950.4 602.7 C947.1 601.2 950.4 601.3 945.4 601.8 Z" class="hv"/>
<path d="M918.5 628.4 C919.4 632.5 919.3 631.7 921.4 640.6 C923.4 649.6 923.3 645.0 924.6 655.4 C925.9 665.7 925.3 662.2 925.2 671.7 C925.1 681.2 925.4 675.8 924.2 683.9 C923.1 692.1 923.9 687.2 921.8 696.2 C919.6 705.2 921.2 700.3 917.7 710.9 C914.1 721.5 915.6 718.0 911.1 728.1 C906.6 738.1 907.3 734.6 904.2 741.1 C901.1 747.7 902.6 745.5 901.7 747.7"/>
<path d="M918.5 626.8 C920.9 628.9 920.7 629.5 925.8 633.3 C931.0 637.1 928.8 635.6 934.0 638.2 C939.2 640.8 938.9 640.1 941.4 641.1"/>
<path d="M920.1 632.5 C922.6 634.4 921.2 634.4 927.5 638.2 C933.7 642.0 935.1 642.0 938.9 643.9"/>
<path d="M965.1 620.6 C962.9 620.4 963.4 618.9 958.5 619.8 C953.6 620.8 955.3 620.1 950.4 623.5 C945.4 626.9 947.1 624.9 943.8 630.0 C940.5 635.2 942.2 633.3 940.5 639.0 C938.9 644.7 940.0 641.7 938.9 647.2 C937.8 652.6 938.6 648.5 937.3 655.4 C935.9 662.2 936.2 659.4 934.8 667.6 C933.5 675.8 933.9 673.0 933.2 679.9 C932.5 686.7 932.5 681.2 932.8 688.0 C933.1 694.8 932.9 692.1 934.0 700.3 C935.1 708.4 935.0 706.0 936.1 712.5 C937.1 719.1 936.9 717.4 937.3 719.9"/>
<path d="M967.5 624.3 C965.1 623.8 965.1 622.1 960.2 622.7 C955.3 623.2 957.2 622.9 952.8 625.9 C948.4 628.9 950.1 627.3 947.1 631.7 C944.1 636.0 945.4 633.8 943.8 639.0 C942.2 644.2 943.5 640.4 942.2 647.2 C940.8 654.0 941.4 651.3 939.7 659.4 C938.1 667.6 938.5 663.5 937.3 671.7 C936.1 679.9 936.2 675.8 936.1 683.9 C935.9 692.1 935.9 688.8 936.9 696.2 C937.8 703.5 937.7 698.4 938.9 706.0 C940.1 713.6 940.0 714.7 940.5 719.1"/>
<ellipse cx="956.5" cy="640.2" rx="14.1" ry="17.3" transform="rotate(15.0 956.5 640.2)"/>
<path d="M945.4 636.6 L970.0 641.5"/>
<path d="M943.8 645.5 L969.1 632.5"/>
<path d="M952.8 626.8 L961.8 652.1"/>
<path d="M965.5 620.2 L948.7 657.8"/>
<path d="M953.6 628.4 L959.3 630.0 L961.8 650.4 L956.1 648.8 Z"/>
<path d="M945.4 645.5 L950.4 647.2 L952.8 642.3"/>
<path d="M961.0 635.7 L966.7 642.3"/>
<path d="M952.8 647.2 C951.4 651.3 951.2 651.3 948.7 659.4 C946.3 667.6 947.2 663.5 945.4 671.7 C943.7 679.9 944.5 677.1 943.4 683.9 C942.3 690.7 942.6 689.4 942.2 692.1"/>
<path d="M961.8 651.3 C959.6 655.4 959.1 655.4 955.3 663.5 C951.4 671.7 952.8 667.6 950.4 675.8 C947.9 683.9 948.7 683.9 947.9 688.0"/>
<ellipse cx="920.9" cy="647.2" rx="2.0" ry="4.9" transform="rotate(10.0 920.9 647.2)"/>
<path d="M935.6 719.9 C934.0 725.6 933.7 726.4 930.7 737.0 C927.8 747.7 929.7 745.2 926.7 751.7 C923.7 758.3 923.4 755.0 921.8 756.6"/>
<path d="M941.4 720.7 C939.6 727.5 939.5 730.0 936.1 741.1 C932.7 752.3 934.1 747.9 931.2 754.2 C928.2 760.5 928.4 758.1 927.1 760.1"/>
<path d="M944.6 720.7 C942.9 728.3 942.9 731.3 939.3 743.6 C935.8 755.8 935.8 752.8 934.0 757.5"/>
<path d="M935.6 718.7 L946.3 720.7"/>
<path d="M936.1 722.3 L945.9 724.1"/>
<path d="M920.1 756.6 L921.4 760.3"/>
<path d="M927.5 751.7 L934.0 754.2"/>
<path d="M942.2 702.7 C941.6 704.6 940.0 705.2 940.5 708.4 C941.1 711.7 943.3 709.5 943.8 712.5 C944.4 715.5 942.7 715.8 942.2 717.4"/>
<text transform="translate(944.8,697.2) rotate(-78)" x="0" y="0" font-size="6.2" font-weight="bold" fill="#000" textLength="25" lengthAdjust="spacingAndGlyphs">FIRM</text>
</g>
<g class="setscrew">
<ellipse cx="870.9" cy="767.0" rx="10.6" ry="3.9" transform="rotate(25.3 870.9 767.0)" style="fill:#000;stroke:#fff;stroke-width:0.75"/>
<ellipse cx="872.5" cy="763.7" rx="10.6" ry="3.9" transform="rotate(25.3 872.5 763.7)" style="fill:#000;stroke:#fff;stroke-width:0.75"/>
<ellipse cx="874.0" cy="760.3" rx="10.6" ry="3.9" transform="rotate(25.3 874.0 760.3)" style="fill:#000;stroke:#fff;stroke-width:0.75"/>
<ellipse cx="875.6" cy="757.0" rx="10.6" ry="3.9" transform="rotate(25.3 875.6 757.0)" style="fill:#000;stroke:#fff;stroke-width:0.75"/>
<ellipse cx="877.2" cy="753.6" rx="10.6" ry="3.9" transform="rotate(25.3 877.2 753.6)" style="fill:#000;stroke:#fff;stroke-width:0.75"/>
<ellipse cx="878.8" cy="750.3" rx="10.6" ry="3.9" transform="rotate(25.3 878.8 750.3)" style="fill:#000;stroke:#fff;stroke-width:0.75"/>
<ellipse cx="879.3" cy="749.2" rx="8.6" ry="2.7" transform="rotate(25.3 879.3 749.2)" style="fill:#fff;stroke:#000;stroke-width:1.4"/>
</g>
<g class="wrench">
<path d="M762.9 790.8 C763.9 788.6 765.0 787.2 765.8 784.2 C766.6 781.2 765.1 783.3 765.4 781.8 C765.7 780.3 765.6 780.8 766.6 779.8 C767.6 778.7 767.5 779.0 768.5 778.7 C769.4 778.5 769.5 778.1 769.5 779.0 C769.5 779.9 768.2 780.0 768.5 781.4 C768.7 782.8 768.9 783.5 770.3 783.2 C771.7 783.0 771.4 781.0 772.5 780.6 C773.6 780.1 773.4 780.6 773.6 781.8 C773.8 783.0 774.0 782.9 773.2 784.2 C772.3 785.6 772.5 785.3 771.1 785.9 C769.7 786.5 770.7 784.0 769.1 786.1 C767.4 788.1 767.2 790.0 766.2 792.0" class="sy"/>
<path d="M756.6 800.6 L755.2 803.9 L758.2 805.3 L759.9 801.8" class="sy"/>
<path d="M760.9 792.4 L759.7 790.2 L755.6 792.2 L750.7 792.2 L747.0 799.4 L754.8 799.4 L759.3 801.1 L762.5 801.0 L765.8 798.1 L767.4 796.1 L768.7 792.4 L760.9 792.4" class="sy"/>
<path d="M763.3 794.1 L767.4 794.1" class="sy"/>
<path d="M762.5 796.1 L766.4 796.1" class="sy"/>
<path d="M761.7 798.2 L764.8 798.2" class="sy"/>
</g>
<g class="wrench">
<path d="M878.1 925.9 C879.1 923.7 880.2 922.3 881.0 919.3 C881.8 916.3 880.3 918.4 880.6 916.9 C880.9 915.4 880.8 915.9 881.8 914.9 C882.8 913.8 882.7 914.1 883.7 913.8 C884.6 913.6 884.7 913.2 884.7 914.1 C884.7 915.0 883.4 915.1 883.7 916.5 C883.9 917.9 884.1 918.6 885.5 918.3 C886.9 918.1 886.6 916.1 887.7 915.7 C888.8 915.2 888.6 915.7 888.8 916.9 C889.0 918.1 889.2 918.0 888.4 919.3 C887.5 920.7 887.7 920.4 886.3 921.0 C884.9 921.6 885.9 919.1 884.3 921.2 C882.6 923.2 882.4 925.1 881.4 927.1" class="sy"/>
<path d="M871.8 935.7 L870.4 939.0 L873.4 940.4 L875.1 936.9" class="sy"/>
<path d="M876.1 927.5 L874.9 925.3 L870.8 927.3 L865.9 927.3 L862.2 934.5 L870.0 934.5 L874.5 936.2 L877.7 936.1 L881.0 933.2 L882.6 931.2 L883.9 927.5 L876.1 927.5" class="sy"/>
<path d="M878.5 929.2 L882.6 929.2" class="sy"/>
<path d="M877.7 931.2 L881.6 931.2" class="sy"/>
<path d="M876.9 933.3 L880.0 933.3" class="sy"/>
</g>
<g class="grease">
<path d="M598.8 594.7 L623.3 594.7 L621.2 607.9 L600.8 607.9 Z" class="sy"/>
<path d="M599.9 601.2 L622.2 601.2" class="sy"/>
<path d="M617.8 594.3 L625.8 583.3" class="hv2"/>
<text x="611.0" y="600.5" font-size="5.2" font-weight="bold" fill="#000" text-anchor="middle" textLength="19" lengthAdjust="spacingAndGlyphs">GREASE</text>
</g>
<g class="excl">
<path d="M645.0 675.3 L649.9 675.3 L649.0 695.4 L645.8 695.4 Z" class="sy"/>
<ellipse cx="647.6" cy="701.7" rx="2.9" ry="2.4" class="sy"/>
</g>
<g class="mag">
<ellipse cx="382.0" cy="1076.1" rx="8.7" ry="8.7" class="hv2"/>
<path d="M374.3 1081.5 L360.8 1093.0" class="sy"/>
<path d="M376.4 1084.1 L362.8 1095.9" class="sy"/>
<ellipse cx="361.8" cy="1094.6" rx="1.4" ry="1.4" class="hv2"/>
</g>
<line x1="626.0" y1="583.5" x2="731.6" y2="477.1" class="ld"/>
<polygon points="740.4,468.2 733.4,478.8 729.8,475.3" class="ah"/>
<line x1="626.5" y1="584.0" x2="737.2" y2="504.5" class="ld"/>
<polygon points="747.4,497.2 738.7,506.5 735.8,502.5" class="ah"/>
<line x1="627.0" y1="584.5" x2="758.2" y2="506.9" class="ld"/>
<polygon points="769.0,500.5 759.5,509.0 757.0,504.7" class="ah"/>
<line x1="665.0" y1="678.3" x2="836.6" y2="572.5" class="ld"/>
<polygon points="847.2,565.9 837.9,574.6 835.2,570.3" class="ah"/>
<line x1="773.5" y1="776.9" x2="858.1" y2="634.1" class="ld"/>
<polygon points="864.5,623.3 860.3,635.3 856.0,632.8" class="ah"/>
<line x1="774.5" y1="777.5" x2="907.9" y2="605.5" class="ld"/>
<polygon points="915.6,595.6 909.9,607.0 906.0,603.9" class="ah"/>
<line x1="876.3" y1="906.8" x2="869.7" y2="783.1" class="ld"/>
<polygon points="869.0,770.6 872.2,782.9 867.2,783.2" class="ah"/>
<line x1="382.7" y1="1049.2" x2="202.1" y2="956.9" class="ld"/>
<polygon points="191.0,951.2 203.3,954.7 201.0,959.1" class="ah"/>
<line x1="634.0" y1="338.5" x2="897.0" y2="555.0" class="ax"/>
<line x1="575.0" y1="361.0" x2="849.0" y2="586.5" class="ax"/>
<line x1="603.0" y1="349.5" x2="742.0" y2="463.6" class="ax"/>
<line x1="803.0" y1="513.6" x2="922.6" y2="611.7" class="ax"/>
<line x1="923.4" y1="668.4" x2="881.5" y2="744.5" class="ax2"/>
<g class="eye1">
<path d="M710.0 150.1 C710.4 146.2 709.1 147.4 711.2 138.6 C713.3 129.8 711.5 133.7 716.3 123.7 C721.1 113.8 718.2 118.0 725.5 108.9 C732.7 99.7 728.9 103.5 738.0 96.3 C747.2 89.1 743.0 91.9 752.9 87.2 C762.8 82.4 758.2 84.1 767.8 82.0 C777.3 79.9 773.5 80.3 781.5 80.9 C789.5 81.4 785.7 80.9 791.8 83.7 C797.9 86.6 795.2 85.6 799.8 89.4 C804.4 93.3 802.1 91.3 805.5 95.2 C808.9 99.0 808.6 99.0 810.1 100.9" class="ph"/>
<path d="M713.4 150.6 C713.8 147.0 712.5 148.3 714.6 139.8 C716.7 131.2 715.0 134.6 719.7 124.9 C724.5 115.2 721.6 119.4 728.9 110.6 C736.1 101.8 732.7 105.5 741.5 98.6 C750.2 91.7 746.0 94.6 755.2 90.0 C764.3 85.4 760.1 87.0 768.9 84.9 C777.7 82.8 774.2 83.3 781.5 83.7 C788.7 84.1 787.6 85.2 790.6 86.0" class="ph2"/>
<path d="M717.4 151.8 C717.8 148.1 716.7 149.1 718.6 140.9 C720.5 132.7 718.6 136.3 723.2 127.2 C727.7 118.0 725.5 121.8 732.3 113.5 C739.2 105.1 735.4 108.9 743.7 102.0 C752.1 95.2 748.7 97.4 757.5 92.9 C766.2 88.3 762.0 90.4 770.1 88.3 C778.1 86.2 775.0 86.6 781.5 86.6 C788.0 86.6 786.8 87.7 789.5 88.3" class="ph"/>
<path d="M721.4 153.5 C721.8 150.1 720.9 151.2 722.6 143.2 C724.3 135.2 722.2 138.6 726.6 129.5 C731.0 120.3 728.9 124.1 735.7 115.7 C742.6 107.4 739.2 111.0 747.2 104.3 C755.2 97.6 751.4 100.1 759.8 95.7 C768.1 91.3 764.7 93.3 772.3 91.2 C780.0 89.1 779.2 90.0 782.6 89.4" class="ph2"/>
<path d="M787.2 81.4 C791.0 83.7 791.4 82.2 798.6 88.3 C805.9 94.4 805.5 95.9 808.9 99.7"/>
<path d="M790.6 84.9 C793.7 86.8 794.1 86.0 799.8 90.6 C805.5 95.2 805.1 95.9 807.8 98.6"/>
<path d="M781.5 80.9 C785.3 82.0 786.1 80.9 792.9 84.3 C799.8 87.7 796.4 85.6 802.1 91.2 C807.8 96.7 807.4 97.6 810.1 100.9"/>
<path d="M736.9 172.9 C737.3 169.1 736.1 169.9 738.0 161.5 C739.9 153.1 738.4 156.9 742.6 147.8 C746.8 138.6 744.5 142.4 750.6 134.0 C756.7 125.7 753.3 129.8 760.9 122.6 C768.5 115.4 764.7 118.0 773.5 112.3 C782.2 106.6 778.1 108.7 787.2 105.5 C796.4 102.2 792.2 103.2 800.9 102.6 C809.7 102.0 805.5 101.3 813.5 103.7 C821.5 106.2 818.1 104.9 824.9 110.0 C831.8 115.2 829.1 112.7 834.1 119.2 C839.0 125.7 837.0 122.2 839.8 129.5 C842.7 136.7 841.7 137.1 842.7 140.9" class="ph"/>
<path d="M740.3 173.5 C740.7 169.5 739.4 170.1 741.5 161.5 C743.6 152.9 742.2 156.7 746.6 147.8 C751.0 138.8 748.5 142.6 754.6 134.6 C760.7 126.6 757.5 130.4 764.9 123.7 C772.3 117.1 768.7 119.7 776.9 114.6 C785.1 109.5 781.5 111.2 789.5 108.3 C797.5 105.5 797.1 106.8 800.9 106.0" class="ph2"/>
<path d="M755.2 178.6 C755.4 174.8 754.2 175.2 755.8 167.2 C757.3 159.2 755.8 163.0 759.8 154.6 C763.8 146.2 761.7 149.7 767.8 142.0 C773.9 134.4 770.4 137.9 778.1 131.8 C785.7 125.7 781.9 127.8 790.6 123.7 C799.4 119.7 796.0 120.9 804.4 119.7 C812.7 118.6 812.0 120.1 815.8 120.3" class="ph"/>
<path d="M746.0 138.6 L756.3 128.3"/>
<path d="M747.2 140.0 L757.5 129.7"/>
<path d="M767.8 114.6 L780.3 108.9"/>
<path d="M768.7 116.0 L781.3 110.3"/>
<path d="M784.9 105.5 C788.3 104.7 788.7 104.1 795.2 103.2 C801.7 102.2 801.3 102.8 804.4 102.6"/>
<path d="M810.1 100.9 C812.4 102.4 812.4 102.8 816.9 105.5 C821.5 108.1 819.6 106.6 823.8 108.9 C828.0 111.2 827.6 111.2 829.5 112.3"/>
<path d="M743.7 144.3 C742.6 147.8 741.8 147.4 740.3 154.6 C738.8 161.9 739.6 162.2 739.2 166.1"/>
<path d="M759.8 178.6 C759.8 172.5 758.6 174.4 760.9 166.1 C763.2 157.7 761.3 161.9 766.6 153.5 C772.0 145.1 768.9 148.9 776.9 140.9 C784.9 132.9 781.1 135.2 790.6 129.5 C800.2 123.7 796.0 125.3 805.5 123.7 C815.0 122.2 811.6 122.2 819.2 124.9 C826.8 127.6 823.8 125.7 828.4 131.8 C832.9 137.9 831.2 134.8 832.9 143.2 C834.7 151.6 834.7 147.8 833.5 156.9 C832.4 166.1 833.5 161.9 829.5 170.6 C825.5 179.4 828.4 175.6 821.5 183.2 C814.7 190.8 817.7 187.8 808.9 193.5 C800.2 199.2 804.4 197.1 795.2 200.4 C786.1 203.6 789.1 203.2 781.5 203.2 C773.9 203.2 777.7 203.6 772.3 200.4 C767.0 197.1 769.3 198.8 765.5 193.5 C761.7 188.2 762.8 189.3 760.9 184.4 C759.0 179.4 759.8 184.7 759.8 178.6 Z" class="ph"/>
<path d="M764.3 161.5 C767.0 157.3 764.7 158.1 772.3 148.9 C780.0 139.8 782.2 139.0 787.2 134.0" class="ph2"/>
<path d="M819.2 126.0 C821.9 128.7 823.4 128.3 827.2 134.0 C831.0 139.8 829.5 140.1 830.7 143.2"/>
<path d="M820.4 124.9 C823.1 127.6 824.7 127.0 828.6 133.1 C832.5 139.2 831.0 139.8 832.1 143.2"/>
<path d="M821.5 179.8 L811.2 190.1"/>
<path d="M823.0 180.9 L812.6 191.4"/>
<path d="M780.3 201.5 L795.2 198.1"/>
<path d="M760.9 184.4 C762.0 187.4 761.3 188.2 764.3 193.5 C767.4 198.8 768.1 198.1 770.1 200.4"/>
<path d="M783.8 136.3 L788.3 132.3 L787.2 137.5 Z"/>
<path d="M778.1 140.9 L780.3 146.6"/>
<path d="M764.3 161.5 L772.3 148.9 L775.8 152.3 L766.6 160.3"/>
<path d="M842.7 140.9 L842.1 154.6"/>
<path d="M839.8 154.6 C840.2 156.9 839.0 157.3 841.0 161.5 C842.9 165.7 842.5 164.9 845.5 167.2 C848.6 169.5 848.2 170.3 850.1 168.3 C852.0 166.4 852.0 165.3 851.2 161.5 C850.5 157.7 849.0 158.4 847.8 156.9"/>
<path d="M710.4 148.8 C710.4 153.2 711.7 153.2 710.4 161.9 C709.0 170.7 709.5 166.8 706.3 175.1 C703.0 183.3 702.7 178.9 700.5 186.5 C698.3 194.2 698.3 190.9 699.7 198.0 C701.1 205.1 699.7 203.0 704.6 207.9 C709.5 212.8 707.4 212.3 714.5 212.8 C721.6 213.4 719.4 213.9 726.0 209.5 C732.5 205.1 730.3 207.9 734.2 199.7 C738.0 191.5 736.4 194.2 737.4 184.9 C738.5 175.6 737.4 176.1 737.4 171.8" class="ph"/>
<path d="M715.3 152.1 C715.3 156.4 716.7 156.4 715.3 165.2 C713.9 174.0 713.9 170.1 711.2 178.3 C708.5 186.5 708.2 182.7 707.1 189.8 C706.0 196.9 705.4 194.2 707.9 199.7 C710.4 205.1 709.5 204.6 714.5 206.2 C719.4 207.9 717.8 207.9 722.7 204.6 C727.6 201.3 726.0 203.0 729.2 196.4 C732.5 189.8 731.4 188.7 732.5 184.9" class="ph"/>
<path d="M720.2 155.4 C720.2 159.2 721.3 159.2 720.2 166.8 C719.1 174.5 719.4 171.2 716.9 178.3 C714.5 185.4 714.2 182.2 712.8 188.2 C711.5 194.2 711.5 192.0 712.8 196.4 C714.2 200.8 715.6 199.7 716.9 201.3"/>
<path d="M744.0 175.1 C743.7 179.4 744.8 179.4 743.2 188.2 C741.6 196.9 743.7 193.1 739.1 201.3 C734.4 209.5 738.0 208.4 729.2 212.8 C720.5 217.2 718.3 213.9 712.8 214.4"/>
<path d="M752.2 178.3 C751.9 182.7 753.6 182.2 751.4 191.5 C749.2 200.8 750.9 197.5 745.7 206.2 C740.5 215.0 739.1 213.9 735.8 217.7"/>
<path d="M710.4 148.8 L689.8 157.0 L680.0 161.1"/>
<path d="M689.8 157.0 L701.3 168.5"/>
<path d="M680.0 168.5 L696.4 161.9 L706.3 175.1"/>
<path d="M737.4 178.3 L753.9 179.2"/>
<path d="M739.1 193.1 L752.2 192.3"/>
<path d="M704.6 201.3 L714.5 206.2"/>
<path d="M707.1 184.9 L715.3 183.3"/>
<path d="M701.3 203.0 L711.2 211.2"/>
<path d="M721.0 161.9 L735.8 171.8"/>
<path d="M729.2 198.0 L744.0 209.5"/>
<path d="M686.6 175.1 L680.0 184.9"/>
<path d="M696.4 184.9 L680.0 209.5"/>
<path d="M680.0 175.1 C682.2 175.6 681.6 173.4 686.6 176.7 C691.5 180.0 692.0 182.2 694.8 184.9"/>
<path d="M844.1 142.2 C849.6 143.9 849.6 142.2 860.6 147.1 C871.5 152.1 864.9 149.1 877.0 157.0 C889.0 164.9 890.1 166.3 896.7 170.9"/>
<path d="M844.1 142.2 L896.7 170.9"/>
<path d="M845.8 145.5 L893.4 170.1"/>
<path d="M847.4 148.8 L885.2 166.8"/>
<path d="M860.6 147.1 L898.3 171.8"/>
<path d="M850.7 155.4 L872.0 165.2 L870.4 176.7"/>
<path d="M745.7 206.2 L735.8 221.0 L724.3 225.9"/>
<path d="M735.8 211.2 L724.3 224.3"/>
</g>
<g class="eye2">
<path d="M634.1 225.4 C634.1 218.8 633.9 218.8 634.1 205.7 C634.4 192.5 633.3 196.9 635.0 186.0 C636.6 175.0 635.0 178.4 639.1 172.8 C643.2 167.2 640.7 170.0 647.3 169.2 C653.8 168.4 651.6 169.2 658.8 170.4 C665.9 171.6 665.3 172.0 668.6 172.8" class="ph"/>
<path d="M646.5 222.1 C646.6 215.5 646.9 214.4 646.9 202.4 C646.9 190.3 646.3 195.0 646.5 186.0 C646.6 176.9 647.0 178.8 647.3 175.3" class="ph"/>
<path d="M668.6 172.0 C672.4 169.0 672.4 168.2 680.1 163.0 C687.8 157.8 681.7 160.8 691.6 156.4 C701.4 152.0 703.6 152.0 709.6 149.8"/>
<path d="M675.2 172.8 C679.6 169.0 680.1 166.8 688.3 161.3 C696.5 155.9 692.1 159.4 699.8 156.4 C707.5 153.4 707.5 153.7 711.3 152.3" class="ph"/>
<path d="M648.1 174.5 L653.8 172.0 L668.6 172.8 L671.1 177.8 L668.6 184.0 L662.0 183.0 L648.9 176.9 Z"/>
<path d="M650.6 175.3 L654.7 173.6 L667.0 174.5 L668.9 178.1 L667.3 182.0 L662.4 181.4 L651.4 176.9 Z"/>
<path d="M650.6 222.9 C654.9 219.3 654.9 220.2 663.7 212.2 C672.4 204.3 668.6 207.3 676.8 199.1 C685.0 190.9 681.2 193.6 688.3 187.6 C695.4 181.6 694.9 183.2 698.2 181.0" class="ph"/>
<path d="M655.5 235.2 C660.4 230.8 661.0 231.4 670.3 222.1 C679.6 212.8 675.7 216.1 683.4 207.3 C691.0 198.5 687.8 202.9 693.2 195.8 C698.7 188.7 697.6 189.2 699.8 186.0" class="ph"/>
<path d="M663.7 212.2 L671.9 218.0"/>
<path d="M678.5 196.6 L686.7 199.1"/>
<path d="M644.0 229.5 L652.2 238.5"/>
<path d="M648.1 227.0 L654.7 235.2"/>
<path d="M678.5 208.9 L683.4 205.7"/>
<path d="M681.7 173.6 C685.0 174.2 685.6 172.6 691.6 175.3 C697.6 178.0 699.8 178.3 699.8 181.9 C699.8 185.4 696.5 183.5 691.6 186.0 C686.7 188.4 687.2 188.1 685.0 189.2"/>
<path d="M686.7 175.3 L685.8 187.6"/>
<path d="M691.6 156.4 L706.4 171.2"/>
<path d="M696.5 164.6 L704.7 172.8"/>
<path d="M634.1 225.4 C633.3 229.7 634.4 231.9 631.7 238.5 C628.9 245.1 628.7 239.6 625.9 245.1 C623.2 250.5 624.8 246.1 623.5 254.9 C622.1 263.7 622.4 260.4 621.8 271.3 C621.3 282.3 621.6 277.3 621.8 287.7 C622.1 298.1 621.3 293.7 622.7 302.5 C624.0 311.3 622.1 308.5 625.9 314.0 C629.8 319.5 631.4 317.3 634.1 318.9"/>
<path d="M644.0 228.6 C642.3 231.9 641.8 232.5 639.1 238.5 C636.3 244.5 635.2 241.2 635.8 246.7 C636.3 252.2 637.4 250.0 640.7 254.9 C644.0 259.8 643.4 256.0 645.6 261.5 C647.8 266.9 647.8 263.7 647.3 271.3 C646.7 279.0 647.3 276.8 644.0 284.4 C640.7 292.1 642.9 288.3 637.4 294.3 C632.0 300.3 632.5 299.2 627.6 302.5 C622.7 305.8 624.3 303.6 622.7 304.1" class="ph"/>
<path d="M634.1 227.0 C635.2 229.7 634.1 230.3 637.4 235.2 C640.7 240.1 639.6 240.7 644.0 241.8 C648.4 242.9 648.4 239.6 650.6 238.5"/>
<path d="M631.7 241.8 C632.5 246.1 632.2 246.1 634.1 254.9 C636.1 263.7 636.6 259.8 637.4 268.0 C638.2 276.2 638.2 271.9 636.6 279.5 C635.0 287.2 633.9 287.2 632.5 291.0"/>
<path d="M627.6 245.1 C627.0 251.6 626.2 250.5 625.9 264.7 C625.7 279.0 627.3 275.7 626.8 287.7 C626.2 299.8 625.1 296.5 624.3 300.9" class="ph"/>
<path d="M640.7 248.3 C641.3 253.8 642.9 254.4 642.3 264.7 C641.8 275.1 640.2 274.6 639.1 279.5"/>
<path d="M634.1 227.0 C634.7 230.8 634.1 232.5 635.8 238.5 C637.4 244.5 635.2 243.4 639.1 245.1 C642.9 246.7 641.8 246.4 647.3 243.4 C652.7 240.4 652.7 238.5 655.5 236.0"/>
<path d="M657.1 297.6 C660.4 295.4 659.9 294.8 667.0 291.0 C674.1 287.2 671.3 287.2 678.5 286.1 C685.6 285.0 681.2 285.5 688.3 287.7 C695.4 289.9 685.9 288.5 699.8 292.7 C713.7 296.8 719.9 297.6 730.0 300.0" class="ph"/>
<path d="M688.3 287.7 C687.2 291.0 688.3 292.1 685.0 297.6 C681.7 303.0 684.5 297.6 678.5 304.1 C672.4 310.7 673.0 310.2 667.0 317.3 C661.0 324.4 662.6 322.7 660.4 325.5" class="ph"/>
<path d="M685.0 297.6 L699.8 304.1 L730.0 311.5" class="ph"/>
<path d="M685.0 297.6 L685.0 339.9" class="ph"/>
<path d="M699.8 294.3 L698.2 339.9" class="ph"/>
<path d="M663.7 328.8 L663.7 339.9"/>
<path d="M634.1 292.7 L648.9 302.5"/>
<path d="M639.1 304.1 L652.2 314.0"/>
<path d="M652.2 310.7 L665.3 322.2"/>
<path d="M657.1 297.6 L648.9 305.8"/>
<path d="M644.0 320.6 L658.8 330.4"/>
<path d="M622.7 304.1 C624.3 306.3 623.2 308.0 627.6 310.7 C632.0 313.4 630.3 312.9 635.8 312.3 C641.3 311.8 639.6 312.3 644.0 309.1 C648.4 305.8 647.3 304.7 648.9 302.5"/>
<path d="M624.3 310.7 C626.5 312.9 625.4 315.1 630.9 317.3 C636.3 319.5 634.7 318.9 640.7 317.3 C646.7 315.6 646.2 314.0 648.9 312.3"/>
<path d="M634.1 318.9 C636.3 320.0 636.3 320.0 640.7 322.2 C645.1 324.4 644.5 319.6 647.3 325.5 C650.0 331.4 648.4 335.1 648.9 339.9"/>
<path d="M612.8 320.6 L627.6 317.3 L634.1 327.1"/>
<path d="M583.3 250.3 L587.2 263.4" class="hv"/>
<path d="M586.2 250.6 L590.2 263.8" class="hv"/>
<path d="M589.3 251.0 L593.3 263.9" class="hv"/>
<path d="M592.4 251.5 L596.4 264.1" class="hv"/>
<path d="M595.4 251.8 L599.3 264.4" class="hv"/>
<path d="M598.4 252.1 L602.3 264.7" class="hv"/>
<path d="M601.5 252.4 L605.4 264.9" class="hv"/>
<path d="M604.6 252.8 L608.5 265.1" class="hv"/>
<path d="M607.6 253.3 L611.5 265.4" class="hv"/>
<path d="M610.5 253.6 L614.4 265.7" class="hv"/>
<path d="M613.6 253.9 L617.6 265.9" class="hv"/>
<path d="M616.7 254.2 L620.7 266.1" class="hv"/>
<path d="M619.7 254.6 L623.6 266.4" class="hv"/>
<path d="M622.7 255.1 L626.6 266.7" class="hv"/>
<path d="M583.3 249.2 L623.5 253.6"/>
<path d="M623.5 251.6 L624.3 269.7"/>
<ellipse cx="578.3" cy="279.5" rx="43.0" ry="22.2" transform="rotate(3.0 578.3 279.5)" class="ph"/>
<ellipse cx="578.3" cy="278.7" rx="37.1" ry="18.7" transform="rotate(3.0 578.3 278.7)" class="ph"/>
<ellipse cx="578.7" cy="278.2" rx="31.2" ry="15.4" transform="rotate(3.0 578.7 278.2)" class="ph2"/>
<ellipse cx="579.6" cy="279.2" rx="24.6" ry="11.8" transform="rotate(3.0 579.6 279.2)" class="ph2"/>
<ellipse cx="581.3" cy="282.1" rx="12.5" ry="9.0"/>
<path d="M575.1 273.8 C577.8 273.6 578.1 271.9 583.3 273.3 C588.5 274.7 587.1 274.2 590.6 277.9 C594.2 281.6 592.8 282.3 593.9 284.4"/>
<ellipse cx="557.8" cy="288.5" rx="6.6" ry="3.9" transform="rotate(-8.0 557.8 288.5)"/>
<path d="M562.7 281.2 C564.1 281.7 565.7 280.6 566.8 282.8 C567.9 285.0 565.5 285.0 566.0 287.7 C566.6 290.5 567.7 289.9 568.5 291.0"/>
<path d="M535.7 281.2 L534.0 323.8"/>
<path d="M621.2 281.2 L622.0 304.1"/>
<path d="M535.7 294.3 C538.4 298.1 535.1 299.2 543.9 305.8 C552.6 312.3 548.2 311.3 561.9 314.0 C575.6 316.7 570.1 316.2 584.9 314.0 C599.7 311.8 594.7 313.4 606.2 307.4 C617.7 301.4 615.0 299.8 619.4 295.9" class="ph"/>
<path d="M542.2 300.9 C546.6 303.6 544.4 305.5 555.4 309.1 C566.3 312.6 561.9 311.5 575.1 311.5 C588.2 311.5 583.3 312.1 594.7 309.1 C606.2 306.1 604.6 304.7 609.5 302.5" class="ph"/>
<ellipse cx="575.1" cy="316.5" rx="10.8" ry="9.8"/>
<path d="M566.8 309.1 C569.6 308.5 569.6 307.2 575.1 307.4 C580.5 307.7 580.5 309.1 583.3 309.9"/>
<path d="M534.0 323.8 C538.4 326.0 537.8 327.1 547.1 330.4 C556.4 333.7 552.6 333.1 561.9 333.7 C571.2 334.2 570.7 332.6 575.1 332.0"/>
<path d="M512.7 339.9 L535.7 328.8 L542.2 339.9"/>
<path d="M538.9 330.4 L543.9 339.9"/>
<path d="M561.9 333.7 L564.4 339.9"/>
<path d="M555.4 332.9 L557.0 339.9"/>
<path d="M584.9 327.1 C588.2 327.7 590.4 329.3 594.7 328.8 C599.1 328.2 596.9 326.6 598.0 325.5"/>
<path d="M588.2 327.1 L589.0 337.0"/>
<path d="M599.7 316.5 C601.9 315.6 602.4 311.5 606.2 314.0 C610.1 316.5 607.3 321.1 611.2 323.8 C615.0 326.6 615.5 322.7 617.7 322.2" class="ph"/>
<path d="M591.5 339.9 C594.7 337.3 594.2 335.2 601.3 332.0 C608.4 328.9 606.2 329.3 612.8 330.4 C619.4 331.5 617.7 332.2 621.0 335.3 C624.3 338.5 622.1 338.4 622.7 339.9"/>
<ellipse cx="631.7" cy="335.3" rx="7.4" ry="6.2" transform="rotate(-30.0 631.7 335.3)" class="hv"/>
<path d="M598.0 314.0 C599.1 310.7 598.6 309.6 601.3 304.1 C604.0 298.7 604.6 299.8 606.2 297.6" class="ph"/>
</g>
<g class="eye3">
<path d="M525.8 334.8 C519.8 338.6 518.1 335.9 507.8 346.3 C497.4 356.7 502.3 350.1 494.6 366.0 C487.0 381.8 489.7 375.3 484.8 393.9 C479.8 412.5 481.2 403.7 479.8 421.8 C478.5 439.8 480.1 432.7 480.7 448.0 C481.2 463.4 479.6 455.7 481.5 467.7 C483.4 479.8 480.9 474.3 486.4 484.1 C491.9 494.0 487.0 489.1 497.9 497.3 C508.8 505.5 503.9 502.5 519.2 508.8 C534.6 515.1 527.4 512.6 543.9 516.1 C560.3 519.7 560.3 518.3 568.5 519.4" class="ph"/>
<path d="M568.5 519.4 C579.4 518.6 579.4 521.6 601.3 517.0 C623.2 512.3 615.0 514.2 634.1 505.5 C653.3 496.7 646.2 501.1 658.8 490.7 C671.3 480.3 666.1 484.7 671.9 474.3 C677.6 463.9 674.4 469.4 676.0 459.5 C677.6 449.7 676.5 449.7 676.8 444.7" class="ph"/>
<path d="M493.0 377.4 C495.7 382.9 493.0 383.5 501.2 393.9 C509.4 404.3 504.5 399.9 517.6 408.6 C530.7 417.4 523.6 414.7 540.6 420.1 C557.5 425.6 549.3 424.0 568.5 425.1 C587.6 426.1 579.4 426.7 598.0 423.4 C616.6 420.1 607.9 422.3 624.3 415.2 C640.7 408.1 635.8 410.8 647.3 402.1 C658.8 393.3 654.9 393.3 658.8 388.9" class="ph"/>
<path d="M480.7 444.7 C485.3 449.1 481.8 449.1 494.6 457.9 C507.5 466.6 501.2 464.2 519.2 471.0 C537.3 477.8 528.0 475.7 548.8 478.4 C569.6 481.1 559.7 481.1 581.6 479.2 C603.5 477.3 594.2 478.7 614.4 472.7 C634.7 466.6 625.4 469.9 642.3 461.2 C659.3 452.4 654.4 455.1 665.3 446.4 C676.3 437.6 671.9 438.7 675.2 434.9" class="ph"/>
<path d="M514.3 351.2 C513.2 356.1 509.4 355.0 511.0 366.0 C512.7 376.9 511.0 373.6 519.2 384.0 C527.4 394.4 521.4 388.7 535.7 397.1 C549.9 405.6 543.3 407.3 561.9 409.5 C580.5 411.6 577.2 406.7 591.5 403.7 C605.7 400.7 600.2 401.5 604.6 400.4" class="ph"/>
<path d="M532.4 336.4 C527.4 339.1 524.2 337.5 517.6 344.6 C511.0 351.7 514.3 353.4 512.7 357.8"/>
<path d="M511.0 374.2 C515.4 379.1 512.1 378.5 524.2 388.9 C536.2 399.3 539.5 399.9 547.1 405.4"/>
<path d="M517.6 380.7 C520.3 379.1 520.9 380.2 525.8 375.8 C530.7 371.4 530.2 370.3 532.4 367.6"/>
<path d="M520.9 383.2 C523.6 381.8 524.4 383.2 529.1 379.1 C533.7 375.0 532.9 373.6 534.8 370.9"/>
<path d="M525.0 384.8 C527.4 383.5 528.5 384.3 532.4 380.7 C536.2 377.2 535.1 376.4 536.5 374.2"/>
<path d="M555.4 361.0 L559.5 391.4"/>
<path d="M558.6 389.8 L645.3 359.1" class="hv"/>
<path d="M561.1 392.2 L646.5 361.0"/>
<path d="M642.3 329.8 L645.3 359.4"/>
<path d="M559.5 387.3 L644.0 356.9" class="ph2"/>
<path d="M584.9 351.2 C586.0 347.9 583.8 347.4 588.2 341.3 C592.6 335.3 590.9 337.0 598.0 333.1 C605.1 329.3 603.0 329.3 609.5 329.8 C616.1 330.4 613.9 329.8 617.7 334.8 C621.6 339.7 619.9 341.3 621.0 344.6"/>
<path d="M588.2 366.0 C592.0 367.1 592.0 370.3 599.7 369.2 C607.3 368.1 606.2 366.2 611.2 362.7 C616.1 359.1 612.0 358.8 614.4 358.6 C616.9 358.3 617.2 360.8 618.5 361.9"/>
<path d="M583.3 359.4 C584.6 356.1 583.5 356.1 587.4 349.5 C591.2 343.0 592.3 343.0 594.7 339.7"/>
<path d="M618.5 349.5 C619.1 351.2 620.5 351.5 620.2 354.5 C619.9 357.5 618.5 357.2 617.7 358.6" class="ph2"/>
<ellipse cx="575.1" cy="361.0" rx="6.2" ry="7.4" transform="rotate(25.0 575.1 361.0)" class="hv"/>
<ellipse cx="575.1" cy="361.0" rx="4.6" ry="5.6" transform="rotate(25.0 575.1 361.0)" class="hv2"/>
<ellipse cx="575.1" cy="361.0" rx="2.8" ry="3.4" transform="rotate(25.0 575.1 361.0)" class="hv2"/>
<ellipse cx="575.1" cy="361.0" rx="1.0" ry="1.3" transform="rotate(25.0 575.1 361.0)" class="hv2"/>
<ellipse cx="631.7" cy="338.9" rx="6.2" ry="7.4" transform="rotate(25.0 631.7 338.9)" class="hv"/>
<ellipse cx="631.7" cy="338.9" rx="4.6" ry="5.6" transform="rotate(25.0 631.7 338.9)" class="hv2"/>
<ellipse cx="631.7" cy="338.9" rx="2.8" ry="3.4" transform="rotate(25.0 631.7 338.9)" class="hv2"/>
<ellipse cx="631.7" cy="338.9" rx="1.0" ry="1.3" transform="rotate(25.0 631.7 338.9)" class="hv2"/>
<path d="M584.9 334.8 L599.7 347.1"/>
<path d="M604.6 351.2 L609.5 355.3"/>
<path d="M578.3 366.0 L588.2 372.5"/>
<path d="M635.8 342.2 L644.0 348.7"/>
<path d="M571.8 392.2 L578.3 405.4"/>
<path d="M584.9 387.3 L591.5 401.2"/>
<path d="M594.7 383.2 L601.3 396.3"/>
<path d="M614.4 377.4 L622.7 388.9"/>
<path d="M627.6 369.2 L634.1 384.0"/>
<path d="M640.7 364.3 L647.3 377.4"/>
<path d="M604.6 380.7 C607.3 383.5 606.2 385.1 612.8 388.9 C619.4 392.8 620.5 391.1 624.3 392.2"/>
<path d="M603.8 380.7 L603.8 393.9"/>
<path d="M563.6 409.5 C570.7 408.1 570.7 408.9 584.9 405.4 C599.1 401.8 589.8 404.8 606.2 398.8 C622.7 392.8 619.4 395.0 634.1 387.3 C648.9 379.6 644.0 382.9 650.6 375.8 C657.1 368.7 652.7 369.2 653.8 366.0"/>
<path d="M532.4 332.3 C534.6 330.9 529.1 328.5 538.9 328.2 C548.8 327.9 553.2 328.2 561.9 331.5 C570.7 334.8 565.2 333.1 565.2 338.1 C565.2 343.0 563.0 343.5 561.9 346.3"/>
<path d="M532.4 332.3 L535.7 347.9 L555.4 361.0"/>
<path d="M535.7 347.9 C541.1 345.7 544.4 345.2 552.1 341.3 C559.7 337.5 556.4 338.1 558.6 336.4"/>
<path d="M557.0 331.5 L559.5 346.3"/>
<path d="M564.4 331.5 L566.0 343.0"/>
<path d="M538.9 328.2 L542.2 338.1"/>
<path d="M534.0 349.5 L550.4 359.4"/>
<path d="M538.9 372.5 L553.7 385.7 L547.1 402.1"/>
<path d="M532.4 357.8 C532.6 361.6 534.3 361.6 533.2 369.2 C532.1 376.9 533.7 376.4 529.1 380.7 C524.4 385.1 522.5 381.8 519.2 382.4"/>
<path d="M532.4 338.1 L534.0 369.2"/>
<path d="M555.4 361.0 L561.9 352.8 L575.1 347.9"/>
<path d="M561.9 364.3 L566.8 359.4"/>
<path d="M645.6 347.9 C647.3 350.6 646.2 351.7 650.6 356.1 C654.9 360.5 656.6 362.1 658.8 361.0 C661.0 359.9 656.0 357.2 657.1 352.8 C658.2 348.5 657.1 350.1 662.0 347.9 C667.0 345.7 665.9 346.5 671.9 346.3 C677.9 346.0 677.4 346.8 680.1 347.1"/>
<path d="M683.4 349.5 C685.6 353.4 686.1 351.7 689.9 361.0 C693.8 370.3 692.7 368.1 694.9 377.4 C697.1 386.8 696.0 385.1 696.5 388.9"/>
<path d="M685.0 320.0 L684.2 349.5" class="ph"/>
<path d="M698.2 320.0 L697.3 384.0" class="ph"/>
<path d="M660.4 362.7 C662.6 370.3 662.6 370.3 667.0 385.7 C671.3 401.0 670.3 393.3 673.5 408.6 C676.8 424.0 675.7 424.0 676.8 431.6"/>
<path d="M696.5 388.9 C698.2 394.4 699.3 393.3 701.4 405.4 C703.6 417.4 702.5 418.5 703.1 425.1"/>
<path d="M680.1 434.9 C683.4 433.8 682.3 434.4 689.9 431.6 C697.6 428.9 689.7 426.1 703.1 426.7 C716.4 427.2 721.0 431.1 730.0 433.3"/>
<path d="M670.3 397.1 C674.6 395.0 674.6 393.3 683.4 390.6 C692.1 387.8 692.1 389.5 696.5 388.9" class="ph2"/>
<path d="M678.5 421.8 C681.7 420.1 680.1 419.6 688.3 416.8 C696.5 414.1 698.2 414.7 703.1 413.6" class="ph2"/>
<path d="M706.4 411.9 L730.0 372.5" class="ph"/>
<path d="M671.9 357.8 L685.0 349.5"/>
<path d="M675.2 366.0 L689.9 361.0"/>
<path d="M703.1 411.9 L711.3 400.4"/>
<path d="M676.8 444.7 C677.4 441.5 676.3 439.3 678.5 434.9 C680.6 430.5 681.7 432.7 683.4 431.6"/>
<path d="M703.1 426.7 L708.0 425.1 L710.5 431.6"/>
<path d="M706.4 433.3 L726.1 435.7" class="ph2"/>
<path d="M650.6 320.0 L652.2 344.6"/>
<path d="M663.7 320.0 L663.7 346.3"/>
<path d="M644.0 341.3 C646.7 339.1 646.7 339.7 652.2 334.8 C657.7 329.8 656.0 331.5 660.4 326.6 C664.8 321.6 663.7 322.2 665.3 320.0"/>
<path d="M639.1 323.3 C640.2 325.5 639.9 321.6 642.3 329.8 C644.8 338.1 644.3 338.6 646.5 347.9 C648.6 357.2 648.1 354.5 648.9 357.8"/>
</g>
<g class="eye4">
<path d="M926.7 271.3 C927.1 277.9 927.7 273.5 927.9 291.0 C928.0 308.5 927.9 303.6 927.0 323.9 C926.2 344.1 927.9 334.8 925.4 351.8 C922.9 368.7 925.9 360.5 919.6 374.7 C913.4 389.0 918.0 381.9 906.5 394.4 C895.0 407.0 903.2 401.6 885.2 412.5 C867.1 423.4 874.2 419.6 852.3 427.3 C830.5 434.9 841.4 431.1 819.5 435.5 C797.6 439.9 806.9 438.8 786.7 440.4 C766.4 442.0 776.3 442.0 758.8 440.4 C741.3 438.8 750.0 439.3 734.2 435.5 C718.3 431.6 721.6 431.9 711.2 428.9 C700.8 425.9 705.7 427.3 703.0 426.5" class="ph"/>
<path d="M903.2 396.1 C894.5 402.1 896.7 403.7 877.0 414.1 C857.3 424.5 866.0 420.7 844.1 427.3 C822.3 433.8 833.2 431.1 811.3 433.8 C789.4 436.6 799.3 436.0 778.5 435.5 C757.7 434.9 758.8 433.3 748.9 432.2" class="ph"/>
<path d="M736.6 369.8 C745.1 370.6 742.6 371.7 762.1 372.3 C781.5 372.8 773.0 373.9 794.9 371.5 C816.8 369.0 805.8 370.4 827.7 364.9 C849.6 359.4 840.9 362.2 860.6 355.1 C880.3 347.9 871.5 352.3 886.8 343.6 C902.1 334.8 895.6 338.6 906.5 328.8 C917.5 318.9 912.8 323.3 919.6 314.0 C926.5 304.7 924.6 305.3 927.0 300.9" class="ph"/>
<path d="M739.1 302.5 L737.4 368.2" class="ph"/>
<path d="M737.4 368.2 C734.7 370.4 736.4 366.0 729.2 374.7 C722.1 383.5 724.9 381.3 716.1 394.4 C707.4 407.6 707.4 407.6 703.0 414.1" class="ph"/>
<path d="M684.9 299.2 L684.1 348.5" class="ph"/>
<path d="M699.7 304.2 L697.2 381.3" class="ph"/>
<path d="M686.6 288.6 L684.9 299.2"/>
<path d="M700.5 293.5 L699.7 304.2"/>
<path d="M739.9 302.2 L739.1 313.2"/>
<path d="M684.1 348.5 C686.0 351.8 687.4 352.9 689.8 358.3 C692.3 363.8 690.9 362.7 691.5 364.9"/>
<path d="M680.0 363.3 L689.8 361.6"/>
<path d="M691.5 368.2 C692.6 372.6 693.1 374.2 694.8 381.3 C696.4 388.4 695.9 386.8 696.4 389.5"/>
<path d="M680.0 391.2 L693.1 388.7"/>
<path d="M696.4 389.5 C698.1 393.9 699.1 394.4 701.3 402.7 C703.5 410.9 702.4 406.2 703.0 414.1 C703.5 422.1 703.0 422.3 703.0 426.5"/>
<path d="M680.0 414.1 L688.2 418.2"/>
<path d="M686.6 417.4 L703.0 413.3" class="ph2"/>
<path d="M703.0 426.5 L707.9 425.6 L710.4 431.4"/>
<path d="M680.0 435.5 C683.3 433.8 682.2 433.6 689.8 430.6 C697.5 427.5 698.6 427.8 703.0 426.5"/>
<path d="M686.6 383.0 L694.8 388.7"/>
</g>
<g class="eye5">
<path d="M723.1 227.3 L731.8 232.1 L753.1 225.0 L784.7 213.9"/>
<path d="M784.7 213.9 L816.3 201.3 L847.8 187.9 L862.0 181.6" class="ph"/>
<path d="M723.1 227.3 C721.0 230.5 720.5 229.5 716.8 236.8 C713.1 244.2 713.4 241.0 712.1 249.4 C710.8 257.9 710.3 254.2 712.9 262.1 C715.5 270.0 715.3 268.4 720.0 273.1 C724.7 277.9 724.7 275.2 727.1 276.3" class="ph"/>
<path d="M731.8 232.1 C729.2 235.8 727.9 235.8 723.9 243.1 C720.0 250.5 720.8 247.3 720.0 254.2 C719.2 261.0 718.4 258.9 721.6 263.6 C724.7 268.4 726.8 266.8 729.5 268.4" class="ph"/>
<path d="M729.5 268.4 C737.3 270.0 736.8 270.8 753.1 273.1 C769.4 275.5 761.5 274.2 778.4 275.5 C795.2 276.8 786.8 276.3 803.6 277.1 C820.5 277.9 817.3 278.4 828.9 277.9 C840.5 277.3 829.9 278.1 838.4 275.5 C846.8 272.9 843.1 275.5 854.1 270.0 C865.2 264.4 860.5 267.3 871.5 258.9 C882.6 250.5 878.3 255.2 887.3 244.7 C896.2 234.2 892.5 238.4 898.3 227.3 C904.1 216.3 902.3 221.6 904.6 211.6 C907.0 201.6 905.2 202.1 905.4 197.4" class="ph"/>
<path d="M727.1 276.3 C737.3 278.9 736.6 280.5 757.9 284.2 C779.2 287.8 766.3 285.7 791.0 287.3 C815.7 288.9 814.7 289.2 832.0 288.9 C849.4 288.6 839.4 287.3 843.1 286.5" class="ph"/>
<path d="M838.4 275.5 C840.2 278.4 841.0 277.6 843.9 284.2 C846.8 290.7 846.0 291.5 847.0 295.2" class="hv"/>
<path d="M847.8 296.0 C855.2 293.1 856.2 294.4 869.9 287.3 C883.6 280.2 876.8 285.2 888.9 274.7 C901.0 264.2 897.3 268.4 906.2 255.8 C915.2 243.1 912.5 243.1 915.7 236.8" class="ph"/>
<path d="M729.5 267.6 C740.0 263.1 737.3 263.1 761.0 254.2 C784.7 245.2 776.8 249.2 800.5 240.8 C824.2 232.3 811.0 237.6 832.0 228.9 C853.1 220.2 839.7 224.7 863.6 214.7 C887.5 204.7 890.4 204.2 903.9 198.9" class="ph"/>
<path d="M748.4 227.3 C748.9 230.5 747.3 228.9 750.0 236.8 C752.6 244.7 750.5 241.6 756.3 251.0 C762.1 260.5 759.4 257.9 767.3 265.2 C775.2 272.6 775.8 270.5 780.0 273.1" class="dt"/>
<path d="M756.3 227.3 C757.3 231.0 756.3 231.0 759.4 238.4 C762.6 245.8 763.7 245.8 765.8 249.4" class="dt"/>
<path d="M784.7 216.3 C785.2 220.5 783.1 220.0 786.3 228.9 C789.4 237.9 787.3 233.7 794.2 243.1 C801.0 252.6 797.8 248.4 806.8 257.3 C815.7 266.3 812.6 263.4 821.0 270.0 C829.4 276.5 828.4 274.7 832.0 277.1" class="dt"/>
<path d="M789.4 216.3 C790.5 220.0 789.4 220.0 792.6 227.3 C795.7 234.7 796.8 234.7 798.9 238.4" class="dt"/>
<path d="M806.8 208.4 C807.8 212.6 805.7 212.6 809.9 221.0 C814.2 229.5 812.1 225.2 819.4 233.7 C826.8 242.1 822.6 237.9 832.0 246.3 C841.5 254.7 838.4 251.5 847.8 258.9 C857.3 266.3 856.2 265.2 860.5 268.4" class="dt"/>
<path d="M838.4 192.6 C839.9 196.8 838.4 196.8 843.1 205.3 C847.8 213.7 844.1 209.5 852.6 217.9 C861.0 226.3 856.8 223.1 868.3 230.5 C879.9 237.9 874.1 234.2 887.3 240.0 C900.4 245.8 901.0 245.2 907.8 247.9" class="dt"/>
<path d="M846.2 191.0 C847.3 194.7 845.7 194.7 849.4 202.1 C853.1 209.5 854.7 209.5 857.3 213.1" class="dt"/>
<path d="M903.9 198.9 C903.6 203.1 906.0 201.0 903.1 211.6 C900.2 222.1 902.0 218.9 895.2 230.5 C888.3 242.1 892.5 235.8 882.6 246.3 C872.6 256.8 876.8 253.7 865.2 262.1 C853.6 270.5 853.6 268.4 847.8 271.5" class="dt"/>
<path d="M752.3 243.1 C754.7 246.8 753.9 246.3 759.4 254.2 C765.0 262.1 765.8 262.6 768.9 266.8"/>
<path d="M759.4 240.0 C762.1 244.2 761.8 244.2 767.3 252.6 C772.9 261.0 773.1 261.0 776.0 265.2"/>
<path d="M786.3 230.5 C788.9 234.7 787.3 235.2 794.2 243.1 C801.0 251.0 802.6 250.5 806.8 254.2"/>
<path d="M792.6 230.5 C795.2 234.7 793.6 235.2 800.5 243.1 C807.3 251.0 808.9 250.5 813.1 254.2"/>
<path d="M808.4 222.6 C811.5 226.8 810.5 227.9 817.8 235.2 C825.2 242.6 826.3 241.6 830.5 244.7"/>
<path d="M814.7 221.0 C817.8 224.7 816.8 225.2 824.2 232.1 C831.5 238.9 832.6 238.4 836.8 241.6"/>
<path d="M841.5 206.8 C844.1 210.0 843.1 211.0 849.4 216.3 C855.7 221.6 856.8 220.5 860.5 222.6"/>
<path d="M849.4 203.7 C851.5 206.8 850.5 207.9 855.7 213.1 C861.0 218.4 862.0 217.4 865.2 219.5"/>
<path d="M874.7 230.5 C879.4 232.6 879.9 231.6 888.9 236.8 C897.8 242.1 897.3 243.1 901.5 246.3"/>
<path d="M879.4 226.6 C884.1 228.4 884.9 227.1 893.6 232.1 C902.3 237.1 901.5 238.4 905.4 241.6"/>
<path d="M843.1 255.8 C847.3 258.9 847.3 256.8 855.7 265.2 C864.1 273.6 864.1 275.7 868.3 281.0"/>
<path d="M849.4 252.6 C854.1 256.3 855.2 256.3 863.6 263.6 C872.0 271.0 871.0 271.0 874.7 274.7"/>
<path d="M817.8 266.0 C821.0 268.4 820.5 270.0 827.3 273.1 C834.1 276.3 834.7 274.7 838.4 275.5"/>
<path d="M824.9 265.2 C827.8 267.3 828.6 268.4 833.6 271.5 C838.6 274.7 837.8 273.6 839.9 274.7"/>
<path d="M887.3 240.8 L896.8 227.3"/>
<path d="M858.9 266.8 L876.2 254.2"/>
<path d="M772.9 274.7 L772.1 285.0"/>
<path d="M781.5 274.7 L780.3 285.4"/>
<path d="M829.7 277.9 L831.3 288.1 L841.5 286.1"/>
<path d="M727.1 268.4 L726.3 276.3"/>
<path d="M897.2 171.5 C899.7 174.9 899.8 174.3 904.6 181.9 C909.5 189.5 908.0 185.9 911.7 194.2 C915.5 202.5 913.9 196.8 916.0 206.8 C918.1 216.8 917.4 218.4 918.1 224.2"/>
<path d="M918.1 224.2 C919.4 230.5 919.6 230.5 922.0 243.1 C924.4 255.8 923.5 251.5 925.2 262.1 C926.8 272.6 926.4 270.5 927.1 274.7" class="ph"/>
<path d="M887.3 178.4 C891.5 180.5 892.5 179.5 899.9 184.7 C907.3 190.0 904.6 187.9 909.4 194.2 C914.1 200.5 912.5 200.5 914.1 203.7"/>
<path d="M904.6 194.2 C906.8 194.7 907.5 193.2 911.0 195.8 C914.4 198.4 913.6 200.0 914.9 202.1"/>
<path d="M903.9 197.4 C906.0 198.2 907.0 196.8 910.2 199.7 C913.3 202.6 912.3 203.9 913.3 206.0"/>
<path d="M926.7 295.2 C925.7 298.9 929.9 294.7 923.6 306.3 C917.3 317.8 913.1 322.0 907.8 329.9" class="ph"/>
<path d="M690.0 288.9 C696.8 291.5 694.7 292.3 710.5 296.8 C726.3 301.3 718.9 300.5 737.3 302.3 C755.8 304.2 747.3 303.6 765.8 302.3 C784.2 301.0 775.8 301.5 792.6 298.4 C809.4 295.2 802.1 296.5 816.3 292.8 C830.5 289.2 828.9 289.2 835.2 287.3" class="ph"/>
<path d="M690.0 300.7 C697.9 303.4 696.8 304.4 713.7 308.6 C730.5 312.8 722.1 312.0 740.5 313.4 C758.9 314.7 748.9 314.4 768.9 312.6 C788.9 310.7 779.4 312.0 800.5 307.8 C821.5 303.6 816.3 304.2 832.0 299.9 C847.8 295.7 835.2 299.9 847.8 295.2 C860.5 290.5 862.6 288.9 869.9 285.7" class="ph"/>
<path d="M700.3 293.6 L698.7 320.5"/>
<path d="M738.9 301.5 L738.9 328.4"/>
</g>
<g class="view1">
<path d="M186.5 848.9 L188.1 814.5 L190.6 810.9 L271.0 810.9 L274.3 814.5 L275.1 848.9" class="ph2"/>
<path d="M193.9 815.3 L267.7 815.3" class="hd"/>
<ellipse cx="203.7" cy="826.8" rx="9.0" ry="11.5" transform="rotate(-10.0 203.7 826.8)" class="hd"/>
<ellipse cx="263.6" cy="826.8" rx="9.0" ry="11.5" transform="rotate(10.0 263.6 826.8)" class="hd"/>
<path d="M221.8 842.4 C222.9 838.5 222.0 836.9 225.1 830.9 C228.1 824.9 227.0 824.3 230.8 824.3 C234.6 824.3 233.5 824.9 236.5 830.9 C239.5 836.9 238.7 838.5 239.8 842.4"/>
<path d="M192.2 847.3 C195.0 845.7 193.9 844.6 200.4 842.4 C207.0 840.2 208.1 841.3 211.9 840.7"/>
<path d="M248.0 840.7 C251.9 841.0 253.0 839.9 259.5 841.6 C266.1 843.2 265.0 844.3 267.7 845.7"/>
<path d="M213.6 840.7 L215.2 848.9"/>
<path d="M246.4 840.7 L245.6 848.9"/>
<path d="M186.5 848.9 L192.2 845.7"/>
<path d="M275.1 848.9 L267.7 844.8"/>
<path d="M195.5 849.3 L265.3 849.3 A24.0 24.0 0 0 1 265.3 897.2 L195.5 897.2 A24.0 24.0 0 0 1 195.5 849.3 Z" class="hv"/>
<path d="M195.5 851.2 L265.3 851.2 A22.0 22.0 0 0 1 265.3 895.2 L195.5 895.2 A22.0 22.0 0 0 1 195.5 851.2 Z"/>
<ellipse cx="195.5" cy="873.2" rx="19.0" ry="19.0" class="hv2"/>
<ellipse cx="195.5" cy="873.2" rx="17.1" ry="17.1"/>
<path d="M201.4 873.2 L198.5 878.3 L192.6 878.3 L189.6 873.2 L192.6 868.1 L198.5 868.1 Z"/>
<ellipse cx="265.3" cy="873.2" rx="19.0" ry="19.0" class="hv2"/>
<ellipse cx="265.3" cy="873.2" rx="17.1" ry="17.1"/>
<path d="M271.2 873.2 L268.2 878.3 L262.3 878.3 L259.4 873.2 L262.3 868.1 L268.2 868.1 Z"/>
<polygon points="207.6,875.9 198.8,894.5 189.0,913.1 179.2,930.8 169.4,947.5 159.6,961.2 152.7,970.0 152.3,973.9 156.7,978.8 163.5,981.8 166.5,980.8 172.4,973.9 184.1,960.2 196.9,944.5 208.6,929.8 220.4,916.1 233.1,902.4 247.0,891.5" style="fill:#fff;stroke:none"/>
<circle cx="230.8" cy="873.2" r="24.3" class="hv wf"/>
<ellipse cx="230.8" cy="873.2" rx="19.7" ry="19.7"/>
<ellipse cx="230.8" cy="873.2" rx="16.7" ry="16.7"/>
<line x1="211.1" y1="873.2" x2="250.5" y2="873.2"/>
<line x1="216.9" y1="859.3" x2="244.7" y2="887.2"/>
<line x1="230.8" y1="853.5" x2="230.8" y2="892.9"/>
<line x1="244.7" y1="859.3" x2="216.9" y2="887.2"/>
<path d="M226.7 858.8 L234.9 862.1 L234.9 885.1 L227.5 881.8 Z"/>
<path d="M218.5 868.6 L225.1 878.5 L218.5 878.5 Z"/>
<path d="M238.2 868.6 L244.7 873.6 L238.2 878.5 Z"/>
<path d="M207.6 875.9 C204.7 882.1 205.0 882.1 198.8 894.5 C192.6 906.9 195.5 901.0 189.0 913.1 C182.5 925.2 185.7 919.3 179.2 930.8 C172.7 942.3 175.9 937.4 169.4 947.5 C162.9 957.6 165.2 953.7 159.6 961.2 C154.0 968.7 155.0 967.1 152.7 970.0" class="hv"/>
<path d="M247.0 891.5 C242.4 895.1 242.0 894.2 233.1 902.4 C224.2 910.6 228.6 907.0 220.4 916.1 C212.2 925.2 216.4 920.3 208.6 929.8 C200.8 939.3 205.1 934.4 196.9 944.5 C188.7 954.6 192.3 950.4 184.1 960.2 C175.9 970.0 178.3 967.0 172.4 973.9 C166.5 980.8 168.5 978.5 166.5 980.8" class="hv"/>
<path d="M209.4 876.8 C206.5 883.0 206.8 883.0 200.6 895.4 C194.4 907.8 197.3 901.9 190.8 914.1 C184.2 926.2 187.5 920.3 180.9 931.8 C174.4 943.3 177.7 938.4 171.1 948.6 C164.5 958.8 166.8 954.8 161.2 962.4 C155.6 969.9 156.6 968.3 154.3 971.2"/>
<path d="M245.8 889.9 C241.1 893.6 240.7 892.7 231.7 900.9 C222.8 909.2 227.1 905.6 218.9 914.8 C210.7 924.0 214.9 919.0 207.1 928.5 C199.2 938.0 203.5 933.1 195.3 943.2 C187.2 953.4 190.7 949.1 182.6 958.9 C174.4 968.7 176.7 965.7 170.9 972.6 C165.0 979.5 166.9 977.2 165.0 979.5"/>
<path d="M182.9 932.9 C179.6 938.6 179.6 939.6 173.0 949.8 C166.4 960.1 168.7 956.2 163.1 963.8 C157.4 971.4 158.4 969.7 156.1 972.7"/>
<path d="M193.6 941.8 C189.3 947.0 188.9 947.7 180.8 957.4 C172.7 967.2 175.0 964.3 169.1 971.1 C163.3 978.0 165.2 975.7 163.2 978.0"/>
<path d="M184.9 934.1 C181.6 939.7 181.6 940.7 174.9 951.1 C168.3 961.4 170.6 957.5 164.9 965.1 C159.2 972.8 160.2 971.1 157.9 974.1"/>
<path d="M191.9 940.5 C187.7 945.7 187.3 946.3 179.2 956.1 C171.1 965.9 173.4 962.9 167.5 969.7 C161.7 976.6 163.6 974.3 161.6 976.6"/>
<line x1="226.0" y1="879.0" x2="213.0" y2="896.0"/>
<path d="M152.7 970.0 C152.6 971.3 151.0 971.0 152.3 973.9 C153.6 976.8 153.0 976.2 156.7 978.8 C160.4 981.4 160.2 981.1 163.5 981.8 C166.8 982.5 165.5 981.1 166.5 980.8" class="hv"/>
<line x1="165.0" y1="958.7" x2="172.8" y2="964.6"/>
<line x1="159.6" y1="969.0" x2="167.5" y2="973.0"/>
<line x1="181.2" y1="930.8" x2="193.4" y2="937.6"/>
<line x1="180.2" y1="933.2" x2="192.0" y2="940.1"/>
<path d="M187.0 925.4 L196.4 926.9 L190.0 933.7 Z"/>
<text transform="translate(196.6,921.6) rotate(-47)" x="0" y="0" font-size="6.8" font-weight="bold" fill="#000" stroke="#000" stroke-width="0.15" textLength="23" lengthAdjust="spacingAndGlyphs">FIRM</text>
<path d="M176.6 893.3 C176.9 897.1 178.3 898.7 177.4 904.7 C176.6 910.8 178.0 907.5 174.2 911.3 C170.3 915.1 173.1 913.5 166.0 916.2 C158.8 919.0 159.1 915.7 152.8 919.5 C146.5 923.4 149.0 925.0 147.1 927.7"/>
<path d="M179.9 894.9 L179.1 903.1 L188.9 904.7"/>
<path d="M282.5 893.3 L283.3 904.7"/>
<path d="M280.0 894.9 L279.2 903.1"/>
<path d="M243.1 904.7 L243.9 917.1"/>
<path d="M256.2 905.6 L256.2 917.1"/>
<path d="M272.7 904.7 L271.8 917.1"/>
<path d="M233.3 903.1 C234.4 905.8 233.3 906.7 236.5 911.3 C239.8 916.0 240.9 915.1 243.1 917.1"/>
<path d="M234.9 917.1 L292.3 917.1"/>
<path d="M233.3 903.9 L277.6 903.9"/>
<path d="M284.1 904.7 C285.2 907.5 284.1 908.0 287.4 913.0 C290.7 917.9 288.5 915.7 294.0 919.5 C299.5 923.4 300.6 922.8 303.8 924.4"/>
<path d="M298.9 904.7 C298.4 907.5 298.9 908.0 297.3 913.0 C295.6 917.9 295.1 917.3 294.0 919.5"/>
<path d="M303.8 924.4 C307.1 922.3 307.1 922.3 313.7 917.9 C320.3 913.5 320.3 913.5 323.5 911.3"/>
<path d="M290.7 878.5 C294.0 877.9 294.0 878.5 300.6 876.8 C307.1 875.2 307.1 874.7 310.4 873.6"/>
<path d="M289.1 891.6 C292.9 892.2 292.3 894.4 300.6 893.3 C308.8 892.2 307.1 893.3 313.7 888.3 C320.3 883.4 318.1 881.8 320.3 878.5"/>
<path d="M302.2 876.8 L300.6 893.3"/>
<path d="M310.4 873.6 L317.0 885.1"/>
<path d="M221.8 917.1 L169.2 918.7" class="ph2"/>
<path d="M284.1 893.3 L298.9 894.9"/>
<path d="M147.1 927.7 C145.7 933.2 146.0 933.2 143.0 944.1 C140.0 955.1 140.8 948.6 138.1 960.6 C135.3 972.5 135.9 973.5 134.8 979.9" class="ph"/>
<path d="M147.1 930.2 L302.2 930.2" class="ph"/>
<path d="M302.2 924.4 C303.3 931.0 303.8 925.6 305.5 944.1 C307.1 962.6 306.6 968.0 307.1 979.9" class="ph"/>
<path d="M307.1 926.1 C311.5 925.5 312.6 926.6 320.3 924.4 C327.9 922.3 326.3 923.9 330.1 919.5 C333.9 915.1 331.2 914.0 331.7 911.3"/>
<path d="M305.5 931.0 C309.9 930.7 309.9 931.8 318.6 930.2 C327.4 928.5 327.4 927.5 331.7 926.1" class="ph2"/>
<path d="M316.1 885.1 L315.3 924.4" class="ph"/>
<path d="M333.4 862.1 L335.0 954.0" class="ph"/>
<path d="M362.9 842.4 C361.8 854.4 361.8 853.9 359.6 878.5 C357.5 903.1 357.5 903.7 356.4 916.2" class="ph"/>
<path d="M303.8 958.9 C309.3 959.2 309.9 961.4 320.3 959.7 C330.6 958.1 330.1 955.9 335.0 954.0" class="ph2"/>
<path d="M345.6 827.6 C346.1 823.7 345.1 823.7 347.1 815.9 C349.0 808.0 347.5 811.0 351.5 804.1 C355.4 797.3 353.4 799.7 358.8 795.3 C364.2 790.9 361.8 792.8 367.6 790.9 C373.5 788.9 373.5 789.9 376.5 789.4" class="ph"/>
<path d="M351.5 824.7 C351.7 821.3 350.7 821.3 352.2 814.4 C353.7 807.5 352.7 810.0 355.9 804.1 C359.1 798.2 359.8 799.2 361.8 796.8"/>
<path d="M300.0 876.2 C303.9 873.7 302.0 878.1 311.8 868.8 C321.6 859.5 317.6 861.5 329.4 848.2 C341.2 835.0 335.3 841.4 347.1 829.1 C358.8 816.9 352.9 823.2 364.7 811.5 C376.5 799.7 369.6 805.6 382.4 793.8 C395.1 782.1 393.6 785.5 402.9 776.2 C412.3 766.9 407.8 769.3 410.3 765.9"/>
<path d="M326.5 868.8 C332.4 862.0 330.9 863.4 344.1 848.2 C357.4 833.0 351.5 839.4 366.2 823.2 C380.9 807.1 373.5 814.4 388.2 799.7 C402.9 785.0 402.9 786.0 410.3 779.1" class="ph"/>
<path d="M364.7 818.8 C364.2 820.3 362.3 820.8 363.2 823.2 C364.2 825.7 361.3 825.0 367.6 826.2 C374.0 827.4 377.5 826.7 382.4 826.9" class="ph"/>
<path d="M382.4 793.8 L391.2 799.7 L439.7 800.4"/>
<path d="M405.9 773.2 L411.0 779.9"/>
<path d="M373.5 789.4 L377.9 787.9 L383.8 789.4 L379.4 792.4 Z"/>
<path d="M333.8 845.3 L364.7 843.1"/>
<path d="M364.7 843.1 L439.7 832.1" class="ph"/>
<path d="M335.3 855.6 L363.2 851.9"/>
<path d="M363.2 851.9 L439.7 844.6" class="ph"/>
<path d="M364.7 843.1 C363.7 849.7 363.7 846.5 361.8 862.9 C359.8 879.4 360.8 874.7 358.8 892.4 C356.9 910.0 356.9 908.0 355.9 915.9" class="ph"/>
<path d="M339.7 846.8 C339.5 855.1 340.0 851.7 339.0 871.8 C338.0 891.9 338.0 885.5 336.8 907.1 C335.5 928.6 335.8 926.7 335.3 936.5" class="ph"/>
<path d="M333.1 862.9 L331.6 914.4"/>
<path d="M355.9 916.6 C353.9 919.3 353.4 916.9 350.0 924.7 C346.6 932.5 347.1 934.9 345.6 940.0" class="ph"/>
<path d="M325.0 868.8 L333.8 854.1 L339.7 846.8"/>
<path d="M311.8 868.8 L319.9 878.4 L315.4 886.5"/>
<path d="M307.4 873.2 L314.7 885.0"/>
<path d="M300.0 893.1 C302.9 892.1 303.7 892.4 308.8 890.1 C314.0 887.9 313.2 887.7 315.4 886.5"/>
<path d="M315.4 886.5 L314.0 912.9"/>
<path d="M314.0 912.9 L330.9 913.7"/>
<path d="M300.0 901.2 L314.0 912.9 L302.9 923.2"/>
<path d="M330.9 913.7 C331.9 917.4 332.4 917.1 333.8 924.7 C335.3 932.3 334.8 932.5 335.3 936.5"/>
<path d="M320.6 923.2 C323.0 922.3 324.3 923.2 327.9 920.3 C331.6 917.4 330.4 916.4 331.6 914.4"/>
<path d="M305.9 932.1 C310.3 931.8 310.0 933.0 319.1 931.3 C328.2 929.6 328.4 928.4 333.1 926.9" class="ph2"/>
<path d="M304.4 926.2 L314.7 926.9" class="ph2"/>
<path d="M344.1 827.6 L350.7 825.4"/>
<path d="M397.1 826.9 L402.9 822.5 L420.6 823.2"/>
<path d="M411.8 807.1 L412.5 822.5"/>
<path d="M422.1 807.1 L420.6 822.5"/>
<line x1="230.8" y1="793.0" x2="230.8" y2="1056.0" class="cl"/>
<line x1="151.0" y1="873.2" x2="641.0" y2="873.2" class="cl"/>
</g>
<g class="view2">
<path d="M146.3 929.5 C144.6 936.1 144.6 936.1 141.3 949.2 C138.1 962.4 139.4 958.0 136.4 968.9 C133.4 979.9 134.0 976.1 132.3 982.1 C130.7 988.1 131.8 985.4 131.5 987.0" class="ph"/>
<path d="M131.5 987.0 C132.0 996.3 132.3 998.5 133.1 1014.9 C134.0 1031.3 132.9 1028.0 134.0 1036.2 C135.0 1044.4 135.6 1038.4 136.4 1039.5" class="ph"/>
<path d="M136.4 1039.5 L325.2 1039.5" class="ph"/>
<path d="M134.0 1036.6 L328.5 1036.6" class="ph"/>
<path d="M131.5 987.0 L307.1 987.0" class="ph"/>
<path d="M304.7 949.2 C305.5 957.4 305.8 957.4 307.1 973.9 C308.5 990.3 308.5 982.6 308.8 998.5 C309.0 1014.4 308.2 1013.8 307.9 1021.5" class="ph"/>
<path d="M328.5 1014.9 L329.3 1036.2 L325.2 1039.5" class="ph"/>
<path d="M307.9 1022.3 L317.0 1010.0 L317.8 1005.1 L330.1 1005.1 L330.1 1014.1 L319.4 1014.9 L317.0 1010.0"/>
<path d="M307.9 1022.6 L323.5 1022.9" class="hv"/>
<path d="M317.8 1005.1 L330.1 1005.1" class="hv"/>
<path d="M333.4 916.4 C333.9 924.6 333.9 927.4 335.0 941.0 C336.1 954.7 335.8 945.4 336.7 957.4 C337.5 969.5 336.9 964.6 337.5 977.1 C338.0 989.7 338.0 989.2 338.3 995.2"/>
<path d="M338.3 995.2 L341.6 998.5 L344.9 1004.2"/>
<path d="M333.4 1004.2 L338.3 995.2"/>
<path d="M338.3 994.9 L380.0 994.9" class="ph"/>
<path d="M333.4 1004.7 L380.0 1004.7" class="ph"/>
<path d="M307.1 959.1 C312.0 959.1 312.6 960.2 321.9 959.1 C331.2 958.0 330.6 956.9 335.0 955.8" class="ph2"/>
<path d="M308.8 986.2 C313.1 986.2 313.1 987.3 321.9 986.2 C330.6 985.1 330.6 984.0 335.0 982.9" class="ph2"/>
<path d="M356.4 916.4 C354.2 921.9 354.2 919.1 349.8 932.8 C345.4 946.5 347.1 942.7 343.2 957.4 C339.4 972.2 339.9 970.6 338.3 977.1" class="ph"/>
<path d="M164.3 959.1 L174.2 964.0"/>
<path d="M156.9 967.3 L169.2 973.9"/>
</g>
<g class="view3">
<path d="M411.5 760.7 C411.5 754.8 410.7 753.6 411.5 743.0 C412.4 732.4 410.4 739.5 414.2 728.9 C418.0 718.3 415.4 721.2 423.0 711.2 C430.7 701.2 426.6 705.6 437.2 698.8 C447.8 692.1 443.2 694.4 454.8 690.9 C466.5 687.3 460.4 688.2 472.2 688.2 C484.0 688.2 478.3 687.3 490.2 690.9 C502.1 694.4 497.3 691.5 507.9 698.8 C518.5 706.2 514.7 703.0 522.0 713.0 C529.4 723.0 526.4 718.9 530.0 728.9 C533.5 738.9 531.4 733.0 532.6 743.0 C533.8 753.0 533.2 753.6 533.5 758.9" class="ph"/>
<path d="M420.4 760.7 C420.7 755.4 420.4 754.8 421.3 744.8 C422.1 734.8 419.5 740.7 423.0 730.7 C426.6 720.6 424.2 724.2 431.9 714.7 C439.5 705.3 434.8 708.6 446.0 702.4 C457.2 696.2 453.1 698.0 465.5 696.2 C477.8 694.4 471.3 694.1 483.1 697.1 C494.9 700.0 490.8 698.5 500.8 705.0 C510.8 711.5 506.7 708.0 513.2 716.5 C519.7 725.1 517.0 721.2 520.3 730.7 C523.5 740.1 521.7 735.4 522.9 744.8 C524.1 754.2 523.5 754.2 523.8 758.9" class="ph"/>
<ellipse cx="472.2" cy="748.3" rx="44.2" ry="44.2" class="ph"/>
<ellipse cx="472.2" cy="748.3" rx="42.1" ry="42.1" class="ph2"/>
<path d="M411.5 760.7 C410.7 763.1 413.3 761.3 408.9 767.8 C404.5 774.3 406.5 771.9 398.3 780.2 C390.0 788.4 393.6 784.9 384.1 792.5 C374.7 800.2 374.7 799.6 370.0 803.1"/>
<path d="M420.4 760.7 C418.3 764.8 419.8 764.8 414.2 773.1 C408.6 781.3 411.2 777.8 403.6 785.5 C395.9 793.1 395.3 792.5 391.2 796.1" class="ph"/>
<path d="M411.5 743.9 L420.4 743.9"/>
<path d="M411.5 760.7 L420.4 761.6"/>
<path d="M405.4 774.8 L411.5 781.0 L401.8 790.8"/>
<path d="M385.9 794.3 L392.1 799.6 L382.4 808.4"/>
<path d="M533.5 758.9 C535.6 762.5 532.9 761.9 539.7 769.5 C546.5 777.2 542.6 773.1 553.8 781.9 C565.0 790.8 560.3 786.6 573.3 796.1 C586.2 805.5 581.5 802.0 592.7 810.2 C603.9 818.5 600.4 814.9 606.9 820.8 C613.4 826.7 610.4 825.5 612.2 827.9" class="ph"/>
<path d="M523.8 758.9 C525.6 762.5 523.8 762.5 529.1 769.5 C534.4 776.6 530.3 771.9 539.7 780.2 C549.1 788.4 545.0 784.3 557.4 794.3 C569.7 804.3 565.0 800.8 576.8 810.2 C588.6 819.6 587.4 818.5 592.7 822.6" class="ph"/>
<path d="M523.8 744.8 L532.6 743.9"/>
<path d="M523.8 758.1 L532.6 758.1"/>
<path d="M535.3 779.3 L541.5 772.2"/>
<path d="M564.4 799.6 L567.1 793.4"/>
<path d="M553.8 781.0 L566.2 790.8" class="hv"/>
<path d="M392.1 799.6 C402.4 799.9 402.1 799.3 423.0 800.5 C443.9 801.7 437.2 802.0 454.8 803.1 C472.5 804.3 460.7 804.3 476.1 804.0 C491.4 803.7 483.1 803.7 500.8 802.2 C518.5 800.8 507.9 800.5 529.1 799.6 C550.3 798.7 552.7 799.6 564.4 799.6" class="ph"/>
<path d="M411.5 801.4 L411.5 822.6"/>
<path d="M422.1 801.4 L420.4 822.6"/>
<path d="M455.7 804.9 L454.0 827.0"/>
<path d="M461.9 804.9 L461.0 827.0"/>
<path d="M482.2 804.9 L482.2 827.0"/>
<path d="M487.6 804.9 L490.2 826.1"/>
<path d="M522.0 801.4 L523.8 822.6"/>
<path d="M531.7 801.4 L531.7 822.6"/>
<path d="M370.0 822.6 C381.8 822.6 381.8 821.4 405.4 822.6 C428.9 823.8 417.1 824.6 440.7 826.1 C464.3 827.6 454.8 827.3 476.1 827.0 C497.3 826.7 486.7 826.7 504.3 825.2 C522.0 823.8 500.2 823.8 529.1 822.6 C558.0 821.4 570.3 822.0 591.0 821.7" class="ph"/>
<path d="M370.0 826.1 C378.8 826.4 378.8 825.8 396.5 827.0 C414.2 828.2 405.9 827.6 423.0 829.6 C440.1 831.7 439.5 832.0 447.8 833.2" class="ph"/>
<path d="M370.0 842.0 L446.0 833.2" class="ph"/>
<path d="M370.0 851.7 C387.7 850.0 387.7 849.1 423.0 846.4 C458.4 843.8 440.7 846.1 476.1 843.8 C511.4 841.4 493.7 842.6 529.1 839.4 C564.4 836.1 554.4 837.0 582.1 834.1 C609.8 831.1 602.2 831.7 612.2 830.5" class="ph"/>
<path d="M460.2 827.9 L460.2 843.8" class="hv"/>
<path d="M485.8 827.9 L487.6 843.8"/>
<path d="M493.7 827.0 L498.2 842.9"/>
<path d="M537.9 822.6 C539.7 824.3 540.9 824.0 543.2 827.9 C545.6 831.7 544.4 832.0 545.0 834.1"/>
<path d="M545.0 822.6 C546.5 824.3 547.4 824.3 549.4 827.9 C551.5 831.4 550.6 831.4 551.2 833.2"/>
<path d="M396.5 827.9 C398.3 826.1 395.9 824.0 401.8 822.6 C407.7 821.1 410.1 823.2 414.2 823.5"/>
<path d="M446.0 833.2 L449.5 828.8 L458.4 828.8 L457.5 833.2"/>
<path d="M453.1 827.0 L477.8 827.5" class="hv"/>
<path d="M482.2 827.0 L493.7 826.1"/>
<path d="M612.2 827.9 C613.1 834.9 613.1 833.8 614.8 849.1 C616.6 864.4 615.4 856.9 617.5 873.8 C619.5 890.8 619.8 891.3 621.0 900.0" class="ph"/>
<path d="M591.0 821.7 C593.3 822.6 595.1 821.1 598.0 824.3 C601.0 827.6 599.2 829.1 599.8 831.4"/>
<path d="M594.5 820.8 C596.9 822.0 598.6 820.8 601.6 824.3 C604.5 827.9 602.7 829.1 603.3 831.4"/>
<path d="M606.9 820.8 C608.3 822.0 608.9 820.8 611.3 824.3 C613.6 827.9 613.1 829.1 613.9 831.4"/>
<ellipse cx="378.5" cy="790.1" rx="4.2" ry="1.8" transform="rotate(10.0 378.5 790.1)"/>
<path d="M370.0 790.8 L380.6 789.0"/>
<path d="M370.0 799.6 L389.4 785.5 L410.7 764.2"/>
<path d="M370.0 813.7 L391.2 797.8"/>
</g>
<g class="view4">
<path d="M619.2 880.0 C620.4 890.0 621.3 898.0 622.8 910.1 C624.3 922.1 623.4 914.2 623.7 916.2" class="ph"/>
<path d="M623.7 916.2 L623.1 950.7 L622.4 994.9 L616.6 1004.6" class="ph"/>
<line x1="356.4" y1="916.5" x2="623.6" y2="916.5" class="ph"/>
<line x1="338.0" y1="994.9" x2="622.4" y2="994.9" class="ph"/>
<line x1="333.0" y1="1004.6" x2="616.6" y2="1004.6" class="ph"/>
</g>
<g class="logo">
<text transform="translate(1232.5,1042.2) skewX(-24)" x="0" y="0" font-size="22.5" font-weight="bold" font-style="italic" fill="#000" stroke="#000" stroke-width="3.4" stroke-linejoin="miter" textLength="50" lengthAdjust="spacingAndGlyphs">FOX</text>
<path d="M1252.3 1042.2 C1252.6 1043.6 1251.9 1043.6 1253.3 1046.3 C1254.6 1049.0 1253.6 1048.0 1256.3 1050.3 C1259.0 1052.6 1258.0 1051.9 1261.4 1053.1 C1264.7 1054.2 1262.2 1054.0 1266.4 1053.7 C1270.6 1053.5 1268.9 1054.1 1274.0 1052.3 C1279.0 1050.6 1277.3 1050.6 1281.6 1048.5 C1285.8 1046.5 1284.9 1047.0 1286.6 1046.3" class="sy"/>
<polygon points="1276.5,1042.2 1280.5,1040.2 1286.6,1040.2 1291.2,1042.7 1294.7,1047.8 1291.7,1046.3 1286.6,1046.3 1281.6,1048.3 1276.5,1047.5 1278.5,1046.3 1276.0,1045.3 1278.5,1044.2" class="ah"/>
</g>
</svg>
</body></html>
